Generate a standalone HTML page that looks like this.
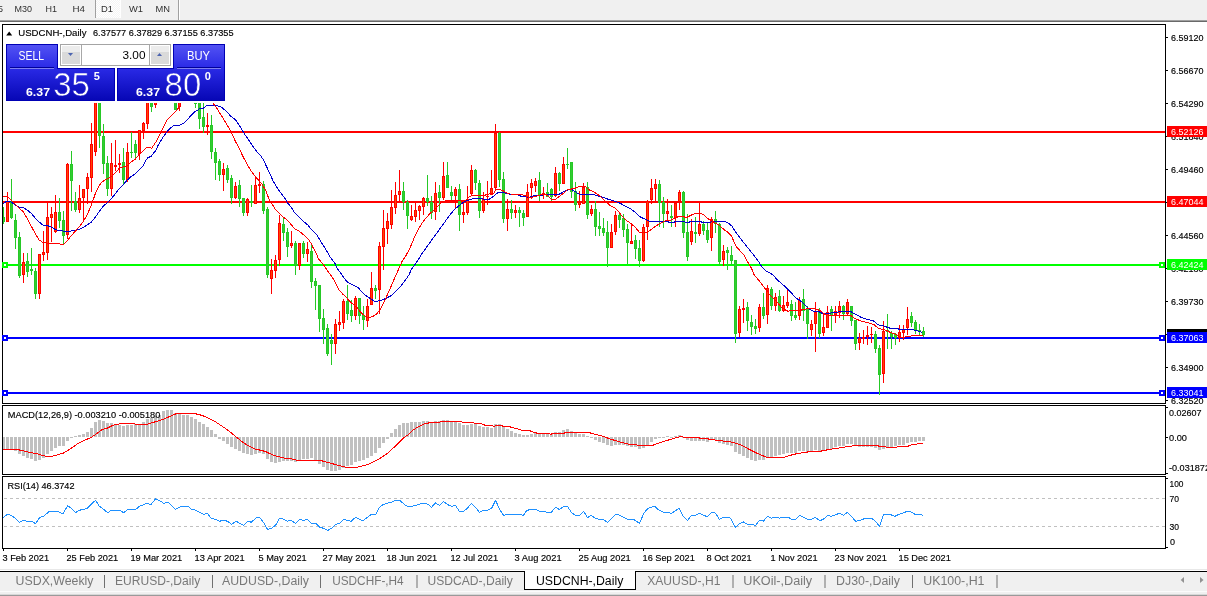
<!DOCTYPE html>
<html lang="en"><head><meta charset="utf-8"><title>USDCNH-,Daily</title>
<style>html,body{margin:0;padding:0;background:#fff;overflow:hidden}svg{display:block}text{font-family:'Liberation Sans', Arial, sans-serif;white-space:pre}</style>
</head><body>
<svg width="1207" height="596" viewBox="0 0 1207 596">
<defs>
<linearGradient id="gb" gradientUnits="userSpaceOnUse" x1="0" y1="44" x2="0" y2="101"><stop offset="0" stop-color="#5454f4"/><stop offset="0.42" stop-color="#2a2ae6"/><stop offset="1" stop-color="#0606b4"/></linearGradient>
<linearGradient id="gs" x1="0" y1="0" x2="0" y2="1"><stop offset="0" stop-color="#f2f2f2"/><stop offset="0.5" stop-color="#dcdcdc"/><stop offset="1" stop-color="#c8c8c8"/></linearGradient>
<clipPath id="cm"><rect x="3" y="103" width="1162" height="300"/></clipPath>
<pattern id="hatch" width="2" height="2" patternUnits="userSpaceOnUse"><rect width="2" height="2" fill="#f4f4f4"/><rect width="1" height="1" fill="#fff"/><rect x="1" y="1" width="1" height="1" fill="#fff"/></pattern>
</defs>
<rect x="0" y="0" width="1207" height="596" fill="#fff"/>
<g id="toolbar">
<rect x="0" y="0" width="1207" height="20" fill="#f0f0f0"/>
<rect x="0" y="20" width="1207" height="1" fill="#a0a0a0"/>
<rect x="0" y="21" width="1207" height="1" fill="#696969"/>
<rect x="96" y="0" width="24" height="18" fill="url(#hatch)"/>
<rect x="95" y="0" width="1" height="18" fill="#a0a0a0"/>
<rect x="120" y="0" width="1" height="18" fill="#fff"/>
<rect x="178" y="0" width="1" height="20" fill="#a0a0a0"/>
<rect x="179" y="0" width="1" height="20" fill="#fff"/>
<text x="-2" y="11.8" font-size="9.6" fill="#303030" textLength="5" lengthAdjust="spacingAndGlyphs">5</text>
<text x="14.5" y="11.8" font-size="9.6" fill="#303030" textLength="17.5" lengthAdjust="spacingAndGlyphs">M30</text>
<text x="45.5" y="11.8" font-size="9.6" fill="#303030" textLength="11.5" lengthAdjust="spacingAndGlyphs">H1</text>
<text x="72.5" y="11.8" font-size="9.6" fill="#303030" textLength="12.5" lengthAdjust="spacingAndGlyphs">H4</text>
<text x="101" y="11.8" font-size="9.6" fill="#303030" textLength="12" lengthAdjust="spacingAndGlyphs">D1</text>
<text x="129" y="11.8" font-size="9.6" fill="#303030" textLength="14" lengthAdjust="spacingAndGlyphs">W1</text>
<text x="155.5" y="11.8" font-size="9.6" fill="#303030" textLength="14.5" lengthAdjust="spacingAndGlyphs">MN</text>
</g>
<g id="frames" shape-rendering="crispEdges">
<rect x="2" y="24" width="1164" height="1" fill="#000"/>
<rect x="2" y="24" width="1" height="380" fill="#000"/>
<rect x="2" y="403" width="1164" height="1" fill="#000"/>
<rect x="1165" y="24" width="1" height="380" fill="#000"/>
<rect x="2" y="405" width="1164" height="1" fill="#000"/>
<rect x="2" y="405" width="1" height="70" fill="#000"/>
<rect x="2" y="474" width="1164" height="1" fill="#000"/>
<rect x="1165" y="405" width="1" height="70" fill="#000"/>
<rect x="2" y="476" width="1164" height="1" fill="#000"/>
<rect x="2" y="476" width="1" height="73" fill="#000"/>
<rect x="2" y="548" width="1164" height="1" fill="#000"/>
<rect x="1165" y="476" width="1" height="73" fill="#000"/>
</g>
<g id="paxis" shape-rendering="crispEdges">
<rect x="1166" y="37" width="2" height="1" fill="#000"/>
<rect x="1166" y="70" width="2" height="1" fill="#000"/>
<rect x="1166" y="103" width="2" height="1" fill="#000"/>
<rect x="1166" y="136" width="2" height="1" fill="#000"/>
<rect x="1166" y="169" width="2" height="1" fill="#000"/>
<rect x="1166" y="202" width="2" height="1" fill="#000"/>
<rect x="1166" y="235" width="2" height="1" fill="#000"/>
<rect x="1166" y="268" width="2" height="1" fill="#000"/>
<rect x="1166" y="301" width="2" height="1" fill="#000"/>
<rect x="1166" y="334" width="2" height="1" fill="#000"/>
<rect x="1166" y="367" width="2" height="1" fill="#000"/>
<rect x="1166" y="400" width="2" height="1" fill="#000"/>
<text x="1171" y="40.8" font-size="9.6" fill="#000" textLength="32.5" lengthAdjust="spacingAndGlyphs" stroke="#000" stroke-width="0.15">6.59120</text>
<text x="1171" y="73.8" font-size="9.6" fill="#000" textLength="32.5" lengthAdjust="spacingAndGlyphs" stroke="#000" stroke-width="0.15">6.56670</text>
<text x="1171" y="106.8" font-size="9.6" fill="#000" textLength="32.5" lengthAdjust="spacingAndGlyphs" stroke="#000" stroke-width="0.15">6.54290</text>
<text x="1171" y="139.8" font-size="9.6" fill="#000" textLength="32.5" lengthAdjust="spacingAndGlyphs" stroke="#000" stroke-width="0.15">6.51840</text>
<text x="1171" y="172.8" font-size="9.6" fill="#000" textLength="32.5" lengthAdjust="spacingAndGlyphs" stroke="#000" stroke-width="0.15">6.49460</text>
<text x="1171" y="238.8" font-size="9.6" fill="#000" textLength="32.5" lengthAdjust="spacingAndGlyphs" stroke="#000" stroke-width="0.15">6.44560</text>
<text x="1171" y="271.8" font-size="9.6" fill="#000" textLength="32.5" lengthAdjust="spacingAndGlyphs" stroke="#000" stroke-width="0.15">6.42180</text>
<text x="1171" y="304.8" font-size="9.6" fill="#000" textLength="32.5" lengthAdjust="spacingAndGlyphs" stroke="#000" stroke-width="0.15">6.39730</text>
<text x="1171" y="370.8" font-size="9.6" fill="#000" textLength="32.5" lengthAdjust="spacingAndGlyphs" stroke="#000" stroke-width="0.15">6.34900</text>
<text x="1171" y="403.8" font-size="9.6" fill="#000" textLength="32.5" lengthAdjust="spacingAndGlyphs" stroke="#000" stroke-width="0.15">6.32520</text>
</g>
<g id="hlines" shape-rendering="crispEdges">
<rect x="3" y="131" width="1162" height="2" fill="#ff0000"/>
<rect x="3" y="201" width="1162" height="2" fill="#ff0000"/>
<rect x="3" y="264" width="1162" height="2" fill="#00ff00"/>
<rect x="3" y="337" width="1162" height="2" fill="#0000ff"/>
<rect x="3" y="392" width="1162" height="2" fill="#0000ff"/>
</g>
<g id="candles" clip-path="url(#cm)" shape-rendering="crispEdges">
<rect x="3" y="207" width="1" height="17" fill="#26c826"/>
<rect x="2" y="217" width="3" height="5" fill="#26c826"/>
<rect x="3" y="218" width="1" height="3" fill="#32cd32"/>
<rect x="7" y="192" width="1" height="30" fill="#ff0000"/>
<rect x="6" y="201" width="3" height="21" fill="#ff0000"/>
<rect x="7" y="202" width="1" height="19" fill="#ff4500"/>
<rect x="11" y="179" width="1" height="40" fill="#26c826"/>
<rect x="10" y="201" width="3" height="17" fill="#26c826"/>
<rect x="11" y="202" width="1" height="15" fill="#32cd32"/>
<rect x="15" y="214" width="1" height="35" fill="#26c826"/>
<rect x="14" y="220" width="3" height="18" fill="#26c826"/>
<rect x="15" y="221" width="1" height="16" fill="#32cd32"/>
<rect x="19" y="232" width="1" height="46" fill="#26c826"/>
<rect x="18" y="237" width="3" height="39" fill="#26c826"/>
<rect x="19" y="238" width="1" height="37" fill="#32cd32"/>
<rect x="23" y="253" width="1" height="30" fill="#ff0000"/>
<rect x="22" y="262" width="3" height="13" fill="#ff0000"/>
<rect x="23" y="263" width="1" height="11" fill="#ff4500"/>
<rect x="27" y="253" width="1" height="24" fill="#26c826"/>
<rect x="26" y="261" width="3" height="11" fill="#26c826"/>
<rect x="27" y="262" width="1" height="9" fill="#32cd32"/>
<rect x="31" y="248" width="1" height="27" fill="#26c826"/>
<rect x="30" y="269" width="3" height="2" fill="#26c826"/>
<rect x="35" y="268" width="1" height="31" fill="#26c826"/>
<rect x="34" y="271" width="3" height="23" fill="#26c826"/>
<rect x="35" y="272" width="1" height="21" fill="#32cd32"/>
<rect x="39" y="254" width="1" height="45" fill="#ff0000"/>
<rect x="38" y="254" width="3" height="40" fill="#ff0000"/>
<rect x="39" y="255" width="1" height="38" fill="#ff4500"/>
<rect x="43" y="231" width="1" height="30" fill="#ff0000"/>
<rect x="42" y="252" width="3" height="3" fill="#ff0000"/>
<rect x="43" y="253" width="1" height="1" fill="#ff4500"/>
<rect x="47" y="202" width="1" height="58" fill="#ff0000"/>
<rect x="46" y="217" width="3" height="36" fill="#ff0000"/>
<rect x="47" y="218" width="1" height="34" fill="#ff4500"/>
<rect x="51" y="207" width="1" height="35" fill="#ff0000"/>
<rect x="50" y="214" width="3" height="4" fill="#ff0000"/>
<rect x="51" y="215" width="1" height="2" fill="#ff4500"/>
<rect x="55" y="195" width="1" height="38" fill="#ff0000"/>
<rect x="54" y="212" width="3" height="20" fill="#ff0000"/>
<rect x="55" y="213" width="1" height="18" fill="#ff4500"/>
<rect x="59" y="198" width="1" height="30" fill="#26c826"/>
<rect x="58" y="212" width="3" height="9" fill="#26c826"/>
<rect x="59" y="213" width="1" height="7" fill="#32cd32"/>
<rect x="63" y="211" width="1" height="33" fill="#26c826"/>
<rect x="62" y="220" width="3" height="16" fill="#26c826"/>
<rect x="63" y="221" width="1" height="14" fill="#32cd32"/>
<rect x="67" y="163" width="1" height="76" fill="#ff0000"/>
<rect x="66" y="164" width="3" height="71" fill="#ff0000"/>
<rect x="67" y="165" width="1" height="69" fill="#ff4500"/>
<rect x="71" y="151" width="1" height="60" fill="#26c826"/>
<rect x="70" y="164" width="3" height="17" fill="#26c826"/>
<rect x="71" y="165" width="1" height="15" fill="#32cd32"/>
<rect x="75" y="192" width="1" height="20" fill="#26c826"/>
<rect x="74" y="201" width="3" height="9" fill="#26c826"/>
<rect x="75" y="202" width="1" height="7" fill="#32cd32"/>
<rect x="79" y="185" width="1" height="28" fill="#ff0000"/>
<rect x="78" y="198" width="3" height="12" fill="#ff0000"/>
<rect x="79" y="199" width="1" height="10" fill="#ff4500"/>
<rect x="83" y="189" width="1" height="31" fill="#ff0000"/>
<rect x="82" y="189" width="3" height="9" fill="#ff0000"/>
<rect x="83" y="190" width="1" height="7" fill="#ff4500"/>
<rect x="87" y="173" width="1" height="31" fill="#ff0000"/>
<rect x="86" y="177" width="3" height="12" fill="#ff0000"/>
<rect x="87" y="178" width="1" height="10" fill="#ff4500"/>
<rect x="91" y="123" width="1" height="69" fill="#ff0000"/>
<rect x="90" y="144" width="3" height="34" fill="#ff0000"/>
<rect x="91" y="145" width="1" height="32" fill="#ff4500"/>
<rect x="95" y="90" width="1" height="66" fill="#ff0000"/>
<rect x="94" y="90" width="3" height="62" fill="#ff0000"/>
<rect x="95" y="91" width="1" height="60" fill="#ff4500"/>
<rect x="99" y="90" width="1" height="58" fill="#26c826"/>
<rect x="98" y="90" width="3" height="46" fill="#26c826"/>
<rect x="99" y="91" width="1" height="44" fill="#32cd32"/>
<rect x="103" y="124" width="1" height="50" fill="#26c826"/>
<rect x="102" y="136" width="3" height="28" fill="#26c826"/>
<rect x="103" y="137" width="1" height="26" fill="#32cd32"/>
<rect x="107" y="156" width="1" height="40" fill="#26c826"/>
<rect x="106" y="163" width="3" height="26" fill="#26c826"/>
<rect x="107" y="164" width="1" height="24" fill="#32cd32"/>
<rect x="111" y="143" width="1" height="53" fill="#ff0000"/>
<rect x="110" y="163" width="3" height="26" fill="#ff0000"/>
<rect x="111" y="164" width="1" height="24" fill="#ff4500"/>
<rect x="115" y="140" width="1" height="31" fill="#ff0000"/>
<rect x="114" y="165" width="3" height="2" fill="#ff0000"/>
<rect x="119" y="154" width="1" height="19" fill="#ff0000"/>
<rect x="118" y="163" width="3" height="2" fill="#ff0000"/>
<rect x="123" y="148" width="1" height="36" fill="#26c826"/>
<rect x="122" y="162" width="3" height="18" fill="#26c826"/>
<rect x="123" y="163" width="1" height="16" fill="#32cd32"/>
<rect x="127" y="143" width="1" height="39" fill="#ff0000"/>
<rect x="126" y="152" width="3" height="28" fill="#ff0000"/>
<rect x="127" y="153" width="1" height="26" fill="#ff4500"/>
<rect x="131" y="132" width="1" height="26" fill="#26c826"/>
<rect x="130" y="152" width="3" height="1" fill="#26c826"/>
<rect x="135" y="140" width="1" height="20" fill="#26c826"/>
<rect x="134" y="144" width="3" height="9" fill="#26c826"/>
<rect x="135" y="145" width="1" height="7" fill="#32cd32"/>
<rect x="139" y="130" width="1" height="30" fill="#ff0000"/>
<rect x="138" y="130" width="3" height="24" fill="#ff0000"/>
<rect x="139" y="131" width="1" height="22" fill="#ff4500"/>
<rect x="143" y="122" width="1" height="17" fill="#ff0000"/>
<rect x="142" y="123" width="3" height="8" fill="#ff0000"/>
<rect x="143" y="124" width="1" height="6" fill="#ff4500"/>
<rect x="147" y="90" width="1" height="39" fill="#ff0000"/>
<rect x="146" y="90" width="3" height="34" fill="#ff0000"/>
<rect x="147" y="91" width="1" height="32" fill="#ff4500"/>
<rect x="151" y="90" width="1" height="22" fill="#26c826"/>
<rect x="150" y="90" width="3" height="17" fill="#26c826"/>
<rect x="151" y="91" width="1" height="15" fill="#32cd32"/>
<rect x="155" y="90" width="1" height="18" fill="#ff0000"/>
<rect x="154" y="90" width="3" height="15" fill="#ff0000"/>
<rect x="155" y="91" width="1" height="13" fill="#ff4500"/>
<rect x="175" y="90" width="1" height="20" fill="#26c826"/>
<rect x="174" y="90" width="3" height="20" fill="#26c826"/>
<rect x="175" y="91" width="1" height="18" fill="#32cd32"/>
<rect x="179" y="90" width="1" height="21" fill="#ff0000"/>
<rect x="178" y="90" width="3" height="17" fill="#ff0000"/>
<rect x="179" y="91" width="1" height="15" fill="#ff4500"/>
<rect x="195" y="90" width="1" height="18" fill="#26c826"/>
<rect x="194" y="90" width="3" height="14" fill="#26c826"/>
<rect x="195" y="91" width="1" height="12" fill="#32cd32"/>
<rect x="199" y="90" width="1" height="39" fill="#26c826"/>
<rect x="198" y="90" width="3" height="29" fill="#26c826"/>
<rect x="199" y="91" width="1" height="27" fill="#32cd32"/>
<rect x="203" y="90" width="1" height="43" fill="#26c826"/>
<rect x="202" y="117" width="3" height="10" fill="#26c826"/>
<rect x="203" y="118" width="1" height="8" fill="#32cd32"/>
<rect x="207" y="113" width="1" height="22" fill="#ff0000"/>
<rect x="206" y="125" width="3" height="2" fill="#ff0000"/>
<rect x="211" y="115" width="1" height="44" fill="#26c826"/>
<rect x="210" y="125" width="3" height="27" fill="#26c826"/>
<rect x="211" y="126" width="1" height="25" fill="#32cd32"/>
<rect x="215" y="148" width="1" height="32" fill="#26c826"/>
<rect x="214" y="152" width="3" height="11" fill="#26c826"/>
<rect x="215" y="153" width="1" height="9" fill="#32cd32"/>
<rect x="219" y="159" width="1" height="22" fill="#26c826"/>
<rect x="218" y="161" width="3" height="14" fill="#26c826"/>
<rect x="219" y="162" width="1" height="12" fill="#32cd32"/>
<rect x="223" y="163" width="1" height="28" fill="#ff0000"/>
<rect x="222" y="169" width="3" height="6" fill="#ff0000"/>
<rect x="223" y="170" width="1" height="4" fill="#ff4500"/>
<rect x="227" y="165" width="1" height="18" fill="#26c826"/>
<rect x="226" y="168" width="3" height="12" fill="#26c826"/>
<rect x="227" y="169" width="1" height="10" fill="#32cd32"/>
<rect x="231" y="175" width="1" height="29" fill="#26c826"/>
<rect x="230" y="178" width="3" height="20" fill="#26c826"/>
<rect x="231" y="179" width="1" height="18" fill="#32cd32"/>
<rect x="235" y="182" width="1" height="17" fill="#ff0000"/>
<rect x="234" y="186" width="3" height="12" fill="#ff0000"/>
<rect x="235" y="187" width="1" height="10" fill="#ff4500"/>
<rect x="239" y="180" width="1" height="27" fill="#26c826"/>
<rect x="238" y="185" width="3" height="14" fill="#26c826"/>
<rect x="239" y="186" width="1" height="12" fill="#32cd32"/>
<rect x="243" y="198" width="1" height="18" fill="#26c826"/>
<rect x="242" y="198" width="3" height="15" fill="#26c826"/>
<rect x="243" y="199" width="1" height="13" fill="#32cd32"/>
<rect x="247" y="198" width="1" height="18" fill="#ff0000"/>
<rect x="246" y="199" width="3" height="14" fill="#ff0000"/>
<rect x="247" y="200" width="1" height="12" fill="#ff4500"/>
<rect x="251" y="185" width="1" height="22" fill="#26c826"/>
<rect x="250" y="201" width="3" height="2" fill="#26c826"/>
<rect x="255" y="176" width="1" height="28" fill="#ff0000"/>
<rect x="254" y="185" width="3" height="19" fill="#ff0000"/>
<rect x="255" y="186" width="1" height="17" fill="#ff4500"/>
<rect x="259" y="172" width="1" height="21" fill="#ff0000"/>
<rect x="258" y="184" width="3" height="2" fill="#ff0000"/>
<rect x="263" y="181" width="1" height="33" fill="#26c826"/>
<rect x="262" y="184" width="3" height="27" fill="#26c826"/>
<rect x="263" y="185" width="1" height="25" fill="#32cd32"/>
<rect x="267" y="207" width="1" height="71" fill="#26c826"/>
<rect x="266" y="209" width="3" height="66" fill="#26c826"/>
<rect x="267" y="210" width="1" height="64" fill="#32cd32"/>
<rect x="271" y="259" width="1" height="35" fill="#ff0000"/>
<rect x="270" y="270" width="3" height="9" fill="#ff0000"/>
<rect x="271" y="271" width="1" height="7" fill="#ff4500"/>
<rect x="275" y="255" width="1" height="23" fill="#ff0000"/>
<rect x="274" y="260" width="3" height="11" fill="#ff0000"/>
<rect x="275" y="261" width="1" height="9" fill="#ff4500"/>
<rect x="279" y="215" width="1" height="51" fill="#ff0000"/>
<rect x="278" y="223" width="3" height="37" fill="#ff0000"/>
<rect x="279" y="224" width="1" height="35" fill="#ff4500"/>
<rect x="283" y="218" width="1" height="23" fill="#26c826"/>
<rect x="282" y="224" width="3" height="9" fill="#26c826"/>
<rect x="283" y="225" width="1" height="7" fill="#32cd32"/>
<rect x="287" y="228" width="1" height="29" fill="#26c826"/>
<rect x="286" y="232" width="3" height="15" fill="#26c826"/>
<rect x="287" y="233" width="1" height="13" fill="#32cd32"/>
<rect x="291" y="231" width="1" height="17" fill="#ff0000"/>
<rect x="290" y="243" width="3" height="3" fill="#ff0000"/>
<rect x="291" y="244" width="1" height="1" fill="#ff4500"/>
<rect x="295" y="241" width="1" height="34" fill="#26c826"/>
<rect x="294" y="243" width="3" height="23" fill="#26c826"/>
<rect x="295" y="244" width="1" height="21" fill="#32cd32"/>
<rect x="299" y="243" width="1" height="27" fill="#ff0000"/>
<rect x="298" y="243" width="3" height="23" fill="#ff0000"/>
<rect x="299" y="244" width="1" height="21" fill="#ff4500"/>
<rect x="303" y="241" width="1" height="17" fill="#26c826"/>
<rect x="302" y="243" width="3" height="11" fill="#26c826"/>
<rect x="303" y="244" width="1" height="9" fill="#32cd32"/>
<rect x="307" y="242" width="1" height="20" fill="#ff0000"/>
<rect x="306" y="249" width="3" height="5" fill="#ff0000"/>
<rect x="307" y="250" width="1" height="3" fill="#ff4500"/>
<rect x="311" y="243" width="1" height="45" fill="#26c826"/>
<rect x="310" y="251" width="3" height="31" fill="#26c826"/>
<rect x="311" y="252" width="1" height="29" fill="#32cd32"/>
<rect x="315" y="278" width="1" height="32" fill="#26c826"/>
<rect x="314" y="281" width="3" height="5" fill="#26c826"/>
<rect x="315" y="282" width="1" height="3" fill="#32cd32"/>
<rect x="319" y="285" width="1" height="47" fill="#26c826"/>
<rect x="318" y="285" width="3" height="34" fill="#26c826"/>
<rect x="319" y="286" width="1" height="32" fill="#32cd32"/>
<rect x="323" y="309" width="1" height="35" fill="#26c826"/>
<rect x="322" y="318" width="3" height="12" fill="#26c826"/>
<rect x="323" y="319" width="1" height="10" fill="#32cd32"/>
<rect x="327" y="324" width="1" height="32" fill="#26c826"/>
<rect x="326" y="328" width="3" height="26" fill="#26c826"/>
<rect x="327" y="329" width="1" height="24" fill="#32cd32"/>
<rect x="331" y="334" width="1" height="31" fill="#26c826"/>
<rect x="330" y="340" width="3" height="4" fill="#26c826"/>
<rect x="331" y="341" width="1" height="2" fill="#32cd32"/>
<rect x="335" y="319" width="1" height="35" fill="#ff0000"/>
<rect x="334" y="324" width="3" height="20" fill="#ff0000"/>
<rect x="335" y="325" width="1" height="18" fill="#ff4500"/>
<rect x="339" y="311" width="1" height="20" fill="#ff0000"/>
<rect x="338" y="322" width="3" height="3" fill="#ff0000"/>
<rect x="339" y="323" width="1" height="1" fill="#ff4500"/>
<rect x="343" y="299" width="1" height="30" fill="#ff0000"/>
<rect x="342" y="301" width="3" height="22" fill="#ff0000"/>
<rect x="343" y="302" width="1" height="20" fill="#ff4500"/>
<rect x="347" y="285" width="1" height="35" fill="#26c826"/>
<rect x="346" y="301" width="3" height="13" fill="#26c826"/>
<rect x="347" y="302" width="1" height="11" fill="#32cd32"/>
<rect x="351" y="300" width="1" height="22" fill="#26c826"/>
<rect x="350" y="310" width="3" height="6" fill="#26c826"/>
<rect x="351" y="311" width="1" height="4" fill="#32cd32"/>
<rect x="355" y="296" width="1" height="24" fill="#ff0000"/>
<rect x="354" y="298" width="3" height="18" fill="#ff0000"/>
<rect x="355" y="299" width="1" height="16" fill="#ff4500"/>
<rect x="359" y="298" width="1" height="26" fill="#26c826"/>
<rect x="358" y="298" width="3" height="18" fill="#26c826"/>
<rect x="359" y="299" width="1" height="16" fill="#32cd32"/>
<rect x="363" y="306" width="1" height="24" fill="#26c826"/>
<rect x="362" y="315" width="3" height="5" fill="#26c826"/>
<rect x="363" y="316" width="1" height="3" fill="#32cd32"/>
<rect x="367" y="299" width="1" height="28" fill="#ff0000"/>
<rect x="366" y="306" width="3" height="15" fill="#ff0000"/>
<rect x="367" y="307" width="1" height="13" fill="#ff4500"/>
<rect x="371" y="272" width="1" height="33" fill="#ff0000"/>
<rect x="370" y="288" width="3" height="17" fill="#ff0000"/>
<rect x="371" y="289" width="1" height="15" fill="#ff4500"/>
<rect x="375" y="285" width="1" height="14" fill="#26c826"/>
<rect x="374" y="288" width="3" height="3" fill="#26c826"/>
<rect x="375" y="289" width="1" height="1" fill="#32cd32"/>
<rect x="379" y="242" width="1" height="72" fill="#ff0000"/>
<rect x="378" y="246" width="3" height="44" fill="#ff0000"/>
<rect x="379" y="247" width="1" height="42" fill="#ff4500"/>
<rect x="383" y="210" width="1" height="60" fill="#ff0000"/>
<rect x="382" y="228" width="3" height="19" fill="#ff0000"/>
<rect x="383" y="229" width="1" height="17" fill="#ff4500"/>
<rect x="387" y="213" width="1" height="31" fill="#ff0000"/>
<rect x="386" y="221" width="3" height="8" fill="#ff0000"/>
<rect x="387" y="222" width="1" height="6" fill="#ff4500"/>
<rect x="391" y="190" width="1" height="39" fill="#ff0000"/>
<rect x="390" y="207" width="3" height="18" fill="#ff0000"/>
<rect x="391" y="208" width="1" height="16" fill="#ff4500"/>
<rect x="395" y="182" width="1" height="32" fill="#ff0000"/>
<rect x="394" y="195" width="3" height="13" fill="#ff0000"/>
<rect x="395" y="196" width="1" height="11" fill="#ff4500"/>
<rect x="399" y="170" width="1" height="31" fill="#ff0000"/>
<rect x="398" y="191" width="3" height="4" fill="#ff0000"/>
<rect x="399" y="192" width="1" height="2" fill="#ff4500"/>
<rect x="403" y="182" width="1" height="28" fill="#26c826"/>
<rect x="402" y="191" width="3" height="11" fill="#26c826"/>
<rect x="403" y="192" width="1" height="9" fill="#32cd32"/>
<rect x="407" y="200" width="1" height="29" fill="#26c826"/>
<rect x="406" y="202" width="3" height="14" fill="#26c826"/>
<rect x="407" y="203" width="1" height="12" fill="#32cd32"/>
<rect x="411" y="205" width="1" height="16" fill="#ff0000"/>
<rect x="410" y="216" width="3" height="4" fill="#ff0000"/>
<rect x="411" y="217" width="1" height="2" fill="#ff4500"/>
<rect x="415" y="202" width="1" height="20" fill="#ff0000"/>
<rect x="414" y="210" width="3" height="7" fill="#ff0000"/>
<rect x="415" y="211" width="1" height="5" fill="#ff4500"/>
<rect x="419" y="205" width="1" height="15" fill="#ff0000"/>
<rect x="418" y="206" width="3" height="5" fill="#ff0000"/>
<rect x="419" y="207" width="1" height="3" fill="#ff4500"/>
<rect x="423" y="197" width="1" height="18" fill="#ff0000"/>
<rect x="422" y="198" width="3" height="9" fill="#ff0000"/>
<rect x="423" y="199" width="1" height="7" fill="#ff4500"/>
<rect x="427" y="175" width="1" height="31" fill="#26c826"/>
<rect x="426" y="198" width="3" height="4" fill="#26c826"/>
<rect x="427" y="199" width="1" height="2" fill="#32cd32"/>
<rect x="431" y="196" width="1" height="23" fill="#26c826"/>
<rect x="430" y="202" width="3" height="11" fill="#26c826"/>
<rect x="431" y="203" width="1" height="9" fill="#32cd32"/>
<rect x="435" y="182" width="1" height="38" fill="#ff0000"/>
<rect x="434" y="193" width="3" height="19" fill="#ff0000"/>
<rect x="435" y="194" width="1" height="17" fill="#ff4500"/>
<rect x="439" y="185" width="1" height="27" fill="#26c826"/>
<rect x="438" y="192" width="3" height="6" fill="#26c826"/>
<rect x="439" y="193" width="1" height="4" fill="#32cd32"/>
<rect x="443" y="162" width="1" height="38" fill="#ff0000"/>
<rect x="442" y="176" width="3" height="22" fill="#ff0000"/>
<rect x="443" y="177" width="1" height="20" fill="#ff4500"/>
<rect x="447" y="162" width="1" height="26" fill="#26c826"/>
<rect x="446" y="175" width="3" height="13" fill="#26c826"/>
<rect x="447" y="176" width="1" height="11" fill="#32cd32"/>
<rect x="451" y="186" width="1" height="14" fill="#26c826"/>
<rect x="450" y="192" width="3" height="4" fill="#26c826"/>
<rect x="451" y="193" width="1" height="2" fill="#32cd32"/>
<rect x="455" y="187" width="1" height="22" fill="#ff0000"/>
<rect x="454" y="189" width="3" height="7" fill="#ff0000"/>
<rect x="455" y="190" width="1" height="5" fill="#ff4500"/>
<rect x="459" y="184" width="1" height="47" fill="#26c826"/>
<rect x="458" y="189" width="3" height="26" fill="#26c826"/>
<rect x="459" y="190" width="1" height="24" fill="#32cd32"/>
<rect x="463" y="202" width="1" height="21" fill="#ff0000"/>
<rect x="462" y="212" width="3" height="3" fill="#ff0000"/>
<rect x="463" y="213" width="1" height="1" fill="#ff4500"/>
<rect x="467" y="186" width="1" height="29" fill="#ff0000"/>
<rect x="466" y="199" width="3" height="14" fill="#ff0000"/>
<rect x="467" y="200" width="1" height="12" fill="#ff4500"/>
<rect x="471" y="165" width="1" height="31" fill="#ff0000"/>
<rect x="470" y="170" width="3" height="24" fill="#ff0000"/>
<rect x="471" y="171" width="1" height="22" fill="#ff4500"/>
<rect x="475" y="169" width="1" height="21" fill="#26c826"/>
<rect x="474" y="170" width="3" height="13" fill="#26c826"/>
<rect x="475" y="171" width="1" height="11" fill="#32cd32"/>
<rect x="479" y="180" width="1" height="38" fill="#26c826"/>
<rect x="478" y="183" width="3" height="28" fill="#26c826"/>
<rect x="479" y="184" width="1" height="26" fill="#32cd32"/>
<rect x="483" y="192" width="1" height="21" fill="#ff0000"/>
<rect x="482" y="199" width="3" height="12" fill="#ff0000"/>
<rect x="483" y="200" width="1" height="10" fill="#ff4500"/>
<rect x="487" y="181" width="1" height="24" fill="#ff0000"/>
<rect x="486" y="196" width="3" height="1" fill="#ff0000"/>
<rect x="491" y="170" width="1" height="25" fill="#ff0000"/>
<rect x="490" y="188" width="3" height="7" fill="#ff0000"/>
<rect x="491" y="189" width="1" height="5" fill="#ff4500"/>
<rect x="495" y="124" width="1" height="66" fill="#ff0000"/>
<rect x="494" y="133" width="3" height="55" fill="#ff0000"/>
<rect x="495" y="134" width="1" height="53" fill="#ff4500"/>
<rect x="499" y="132" width="1" height="55" fill="#26c826"/>
<rect x="498" y="133" width="3" height="47" fill="#26c826"/>
<rect x="499" y="134" width="1" height="45" fill="#32cd32"/>
<rect x="503" y="172" width="1" height="51" fill="#26c826"/>
<rect x="502" y="179" width="3" height="40" fill="#26c826"/>
<rect x="503" y="180" width="1" height="38" fill="#32cd32"/>
<rect x="507" y="199" width="1" height="32" fill="#ff0000"/>
<rect x="506" y="209" width="3" height="10" fill="#ff0000"/>
<rect x="507" y="210" width="1" height="8" fill="#ff4500"/>
<rect x="511" y="200" width="1" height="19" fill="#26c826"/>
<rect x="510" y="209" width="3" height="4" fill="#26c826"/>
<rect x="511" y="210" width="1" height="2" fill="#32cd32"/>
<rect x="515" y="205" width="1" height="13" fill="#ff0000"/>
<rect x="514" y="210" width="3" height="3" fill="#ff0000"/>
<rect x="515" y="211" width="1" height="1" fill="#ff4500"/>
<rect x="519" y="207" width="1" height="20" fill="#26c826"/>
<rect x="518" y="210" width="3" height="3" fill="#26c826"/>
<rect x="519" y="211" width="1" height="1" fill="#32cd32"/>
<rect x="523" y="210" width="1" height="16" fill="#26c826"/>
<rect x="522" y="213" width="3" height="5" fill="#26c826"/>
<rect x="523" y="214" width="1" height="3" fill="#32cd32"/>
<rect x="527" y="184" width="1" height="33" fill="#ff0000"/>
<rect x="526" y="192" width="3" height="25" fill="#ff0000"/>
<rect x="527" y="193" width="1" height="23" fill="#ff4500"/>
<rect x="531" y="179" width="1" height="20" fill="#ff0000"/>
<rect x="530" y="183" width="3" height="5" fill="#ff0000"/>
<rect x="531" y="184" width="1" height="3" fill="#ff4500"/>
<rect x="535" y="178" width="1" height="14" fill="#ff0000"/>
<rect x="534" y="181" width="3" height="5" fill="#ff0000"/>
<rect x="535" y="182" width="1" height="3" fill="#ff4500"/>
<rect x="539" y="172" width="1" height="29" fill="#26c826"/>
<rect x="538" y="180" width="3" height="16" fill="#26c826"/>
<rect x="539" y="181" width="1" height="14" fill="#32cd32"/>
<rect x="543" y="187" width="1" height="12" fill="#ff0000"/>
<rect x="542" y="193" width="3" height="2" fill="#ff0000"/>
<rect x="547" y="183" width="1" height="14" fill="#26c826"/>
<rect x="546" y="192" width="3" height="5" fill="#26c826"/>
<rect x="547" y="193" width="1" height="3" fill="#32cd32"/>
<rect x="551" y="188" width="1" height="13" fill="#26c826"/>
<rect x="550" y="189" width="3" height="8" fill="#26c826"/>
<rect x="551" y="190" width="1" height="6" fill="#32cd32"/>
<rect x="555" y="167" width="1" height="30" fill="#ff0000"/>
<rect x="554" y="173" width="3" height="23" fill="#ff0000"/>
<rect x="555" y="174" width="1" height="21" fill="#ff4500"/>
<rect x="559" y="172" width="1" height="19" fill="#26c826"/>
<rect x="558" y="173" width="3" height="11" fill="#26c826"/>
<rect x="559" y="174" width="1" height="9" fill="#32cd32"/>
<rect x="563" y="157" width="1" height="27" fill="#ff0000"/>
<rect x="562" y="164" width="3" height="20" fill="#ff0000"/>
<rect x="563" y="165" width="1" height="18" fill="#ff4500"/>
<rect x="567" y="148" width="1" height="21" fill="#26c826"/>
<rect x="566" y="164" width="3" height="1" fill="#26c826"/>
<rect x="571" y="162" width="1" height="36" fill="#26c826"/>
<rect x="570" y="162" width="3" height="30" fill="#26c826"/>
<rect x="571" y="163" width="1" height="28" fill="#32cd32"/>
<rect x="575" y="182" width="1" height="29" fill="#26c826"/>
<rect x="574" y="191" width="3" height="14" fill="#26c826"/>
<rect x="575" y="192" width="1" height="12" fill="#32cd32"/>
<rect x="579" y="191" width="1" height="17" fill="#ff0000"/>
<rect x="578" y="202" width="3" height="3" fill="#ff0000"/>
<rect x="579" y="203" width="1" height="1" fill="#ff4500"/>
<rect x="583" y="183" width="1" height="21" fill="#ff0000"/>
<rect x="582" y="187" width="3" height="17" fill="#ff0000"/>
<rect x="583" y="188" width="1" height="15" fill="#ff4500"/>
<rect x="587" y="182" width="1" height="37" fill="#26c826"/>
<rect x="586" y="187" width="3" height="28" fill="#26c826"/>
<rect x="587" y="188" width="1" height="26" fill="#32cd32"/>
<rect x="591" y="205" width="1" height="11" fill="#ff0000"/>
<rect x="590" y="209" width="3" height="5" fill="#ff0000"/>
<rect x="591" y="210" width="1" height="3" fill="#ff4500"/>
<rect x="595" y="201" width="1" height="35" fill="#26c826"/>
<rect x="594" y="209" width="3" height="18" fill="#26c826"/>
<rect x="595" y="210" width="1" height="16" fill="#32cd32"/>
<rect x="599" y="212" width="1" height="24" fill="#26c826"/>
<rect x="598" y="226" width="3" height="3" fill="#26c826"/>
<rect x="599" y="227" width="1" height="1" fill="#32cd32"/>
<rect x="603" y="218" width="1" height="18" fill="#26c826"/>
<rect x="602" y="228" width="3" height="5" fill="#26c826"/>
<rect x="603" y="229" width="1" height="3" fill="#32cd32"/>
<rect x="607" y="221" width="1" height="46" fill="#26c826"/>
<rect x="606" y="232" width="3" height="16" fill="#26c826"/>
<rect x="607" y="233" width="1" height="14" fill="#32cd32"/>
<rect x="611" y="224" width="1" height="24" fill="#ff0000"/>
<rect x="610" y="232" width="3" height="16" fill="#ff0000"/>
<rect x="611" y="233" width="1" height="14" fill="#ff4500"/>
<rect x="615" y="211" width="1" height="24" fill="#ff0000"/>
<rect x="614" y="215" width="3" height="17" fill="#ff0000"/>
<rect x="615" y="216" width="1" height="15" fill="#ff4500"/>
<rect x="619" y="213" width="1" height="15" fill="#26c826"/>
<rect x="618" y="215" width="3" height="5" fill="#26c826"/>
<rect x="619" y="216" width="1" height="3" fill="#32cd32"/>
<rect x="623" y="214" width="1" height="23" fill="#26c826"/>
<rect x="622" y="218" width="3" height="12" fill="#26c826"/>
<rect x="623" y="219" width="1" height="10" fill="#32cd32"/>
<rect x="627" y="224" width="1" height="40" fill="#26c826"/>
<rect x="626" y="229" width="3" height="14" fill="#26c826"/>
<rect x="627" y="230" width="1" height="12" fill="#32cd32"/>
<rect x="631" y="225" width="1" height="19" fill="#ff0000"/>
<rect x="630" y="241" width="3" height="3" fill="#ff0000"/>
<rect x="631" y="242" width="1" height="1" fill="#ff4500"/>
<rect x="635" y="235" width="1" height="24" fill="#26c826"/>
<rect x="634" y="240" width="3" height="9" fill="#26c826"/>
<rect x="635" y="241" width="1" height="7" fill="#32cd32"/>
<rect x="639" y="240" width="1" height="27" fill="#26c826"/>
<rect x="638" y="248" width="3" height="13" fill="#26c826"/>
<rect x="639" y="249" width="1" height="11" fill="#32cd32"/>
<rect x="643" y="224" width="1" height="38" fill="#ff0000"/>
<rect x="642" y="227" width="3" height="34" fill="#ff0000"/>
<rect x="643" y="228" width="1" height="32" fill="#ff4500"/>
<rect x="647" y="200" width="1" height="40" fill="#ff0000"/>
<rect x="646" y="201" width="3" height="26" fill="#ff0000"/>
<rect x="647" y="202" width="1" height="24" fill="#ff4500"/>
<rect x="651" y="179" width="1" height="25" fill="#ff0000"/>
<rect x="650" y="188" width="3" height="12" fill="#ff0000"/>
<rect x="651" y="189" width="1" height="10" fill="#ff4500"/>
<rect x="655" y="179" width="1" height="23" fill="#ff0000"/>
<rect x="654" y="184" width="3" height="5" fill="#ff0000"/>
<rect x="655" y="185" width="1" height="3" fill="#ff4500"/>
<rect x="659" y="180" width="1" height="47" fill="#26c826"/>
<rect x="658" y="184" width="3" height="19" fill="#26c826"/>
<rect x="659" y="185" width="1" height="17" fill="#32cd32"/>
<rect x="663" y="197" width="1" height="31" fill="#26c826"/>
<rect x="662" y="202" width="3" height="12" fill="#26c826"/>
<rect x="663" y="203" width="1" height="10" fill="#32cd32"/>
<rect x="667" y="199" width="1" height="23" fill="#ff0000"/>
<rect x="666" y="211" width="3" height="3" fill="#ff0000"/>
<rect x="667" y="212" width="1" height="1" fill="#ff4500"/>
<rect x="671" y="205" width="1" height="22" fill="#26c826"/>
<rect x="670" y="216" width="3" height="2" fill="#26c826"/>
<rect x="675" y="202" width="1" height="25" fill="#ff0000"/>
<rect x="674" y="203" width="3" height="15" fill="#ff0000"/>
<rect x="675" y="204" width="1" height="13" fill="#ff4500"/>
<rect x="679" y="190" width="1" height="20" fill="#ff0000"/>
<rect x="678" y="192" width="3" height="10" fill="#ff0000"/>
<rect x="679" y="193" width="1" height="8" fill="#ff4500"/>
<rect x="683" y="191" width="1" height="47" fill="#26c826"/>
<rect x="682" y="192" width="3" height="41" fill="#26c826"/>
<rect x="683" y="193" width="1" height="39" fill="#32cd32"/>
<rect x="687" y="214" width="1" height="47" fill="#26c826"/>
<rect x="686" y="232" width="3" height="25" fill="#26c826"/>
<rect x="687" y="233" width="1" height="23" fill="#32cd32"/>
<rect x="691" y="219" width="1" height="26" fill="#ff0000"/>
<rect x="690" y="231" width="3" height="11" fill="#ff0000"/>
<rect x="691" y="232" width="1" height="9" fill="#ff4500"/>
<rect x="695" y="217" width="1" height="26" fill="#26c826"/>
<rect x="694" y="232" width="3" height="2" fill="#26c826"/>
<rect x="699" y="202" width="1" height="34" fill="#ff0000"/>
<rect x="698" y="224" width="3" height="10" fill="#ff0000"/>
<rect x="699" y="225" width="1" height="8" fill="#ff4500"/>
<rect x="703" y="221" width="1" height="14" fill="#26c826"/>
<rect x="702" y="224" width="3" height="7" fill="#26c826"/>
<rect x="703" y="225" width="1" height="5" fill="#32cd32"/>
<rect x="707" y="223" width="1" height="20" fill="#26c826"/>
<rect x="706" y="230" width="3" height="10" fill="#26c826"/>
<rect x="707" y="231" width="1" height="8" fill="#32cd32"/>
<rect x="711" y="217" width="1" height="34" fill="#ff0000"/>
<rect x="710" y="219" width="3" height="19" fill="#ff0000"/>
<rect x="711" y="220" width="1" height="17" fill="#ff4500"/>
<rect x="715" y="211" width="1" height="22" fill="#26c826"/>
<rect x="714" y="219" width="3" height="5" fill="#26c826"/>
<rect x="715" y="220" width="1" height="3" fill="#32cd32"/>
<rect x="719" y="223" width="1" height="42" fill="#26c826"/>
<rect x="718" y="224" width="3" height="38" fill="#26c826"/>
<rect x="719" y="225" width="1" height="36" fill="#32cd32"/>
<rect x="723" y="245" width="1" height="21" fill="#ff0000"/>
<rect x="722" y="251" width="3" height="9" fill="#ff0000"/>
<rect x="723" y="252" width="1" height="7" fill="#ff4500"/>
<rect x="727" y="247" width="1" height="23" fill="#26c826"/>
<rect x="726" y="250" width="3" height="3" fill="#26c826"/>
<rect x="727" y="251" width="1" height="1" fill="#32cd32"/>
<rect x="731" y="246" width="1" height="19" fill="#26c826"/>
<rect x="730" y="255" width="3" height="6" fill="#26c826"/>
<rect x="731" y="256" width="1" height="4" fill="#32cd32"/>
<rect x="735" y="260" width="1" height="83" fill="#26c826"/>
<rect x="734" y="260" width="3" height="74" fill="#26c826"/>
<rect x="735" y="261" width="1" height="72" fill="#32cd32"/>
<rect x="739" y="306" width="1" height="31" fill="#ff0000"/>
<rect x="738" y="309" width="3" height="24" fill="#ff0000"/>
<rect x="739" y="310" width="1" height="22" fill="#ff4500"/>
<rect x="743" y="299" width="1" height="24" fill="#ff0000"/>
<rect x="742" y="308" width="3" height="2" fill="#ff0000"/>
<rect x="747" y="302" width="1" height="29" fill="#26c826"/>
<rect x="746" y="307" width="3" height="14" fill="#26c826"/>
<rect x="747" y="308" width="1" height="12" fill="#32cd32"/>
<rect x="751" y="315" width="1" height="20" fill="#26c826"/>
<rect x="750" y="322" width="3" height="5" fill="#26c826"/>
<rect x="751" y="323" width="1" height="3" fill="#32cd32"/>
<rect x="755" y="319" width="1" height="15" fill="#26c826"/>
<rect x="754" y="326" width="3" height="3" fill="#26c826"/>
<rect x="755" y="327" width="1" height="1" fill="#32cd32"/>
<rect x="759" y="304" width="1" height="28" fill="#ff0000"/>
<rect x="758" y="307" width="3" height="21" fill="#ff0000"/>
<rect x="759" y="308" width="1" height="19" fill="#ff4500"/>
<rect x="763" y="293" width="1" height="26" fill="#26c826"/>
<rect x="762" y="307" width="3" height="9" fill="#26c826"/>
<rect x="763" y="308" width="1" height="7" fill="#32cd32"/>
<rect x="767" y="285" width="1" height="39" fill="#ff0000"/>
<rect x="766" y="288" width="3" height="27" fill="#ff0000"/>
<rect x="767" y="289" width="1" height="25" fill="#ff4500"/>
<rect x="771" y="287" width="1" height="23" fill="#26c826"/>
<rect x="770" y="289" width="3" height="17" fill="#26c826"/>
<rect x="771" y="290" width="1" height="15" fill="#32cd32"/>
<rect x="775" y="293" width="1" height="18" fill="#ff0000"/>
<rect x="774" y="297" width="3" height="9" fill="#ff0000"/>
<rect x="775" y="298" width="1" height="7" fill="#ff4500"/>
<rect x="779" y="290" width="1" height="22" fill="#26c826"/>
<rect x="778" y="296" width="3" height="15" fill="#26c826"/>
<rect x="779" y="297" width="1" height="13" fill="#32cd32"/>
<rect x="783" y="296" width="1" height="16" fill="#ff0000"/>
<rect x="782" y="305" width="3" height="6" fill="#ff0000"/>
<rect x="783" y="306" width="1" height="4" fill="#ff4500"/>
<rect x="787" y="288" width="1" height="20" fill="#ff0000"/>
<rect x="786" y="302" width="3" height="4" fill="#ff0000"/>
<rect x="787" y="303" width="1" height="2" fill="#ff4500"/>
<rect x="791" y="300" width="1" height="21" fill="#26c826"/>
<rect x="790" y="304" width="3" height="12" fill="#26c826"/>
<rect x="791" y="305" width="1" height="10" fill="#32cd32"/>
<rect x="795" y="302" width="1" height="18" fill="#26c826"/>
<rect x="794" y="315" width="3" height="3" fill="#26c826"/>
<rect x="795" y="316" width="1" height="1" fill="#32cd32"/>
<rect x="799" y="297" width="1" height="23" fill="#ff0000"/>
<rect x="798" y="300" width="3" height="16" fill="#ff0000"/>
<rect x="799" y="301" width="1" height="14" fill="#ff4500"/>
<rect x="803" y="289" width="1" height="32" fill="#26c826"/>
<rect x="802" y="299" width="3" height="12" fill="#26c826"/>
<rect x="803" y="300" width="1" height="10" fill="#32cd32"/>
<rect x="807" y="306" width="1" height="33" fill="#26c826"/>
<rect x="806" y="309" width="3" height="15" fill="#26c826"/>
<rect x="807" y="310" width="1" height="13" fill="#32cd32"/>
<rect x="811" y="320" width="1" height="16" fill="#ff0000"/>
<rect x="810" y="324" width="3" height="6" fill="#ff0000"/>
<rect x="811" y="325" width="1" height="4" fill="#ff4500"/>
<rect x="815" y="302" width="1" height="50" fill="#ff0000"/>
<rect x="814" y="312" width="3" height="12" fill="#ff0000"/>
<rect x="815" y="313" width="1" height="10" fill="#ff4500"/>
<rect x="819" y="308" width="1" height="30" fill="#26c826"/>
<rect x="818" y="311" width="3" height="23" fill="#26c826"/>
<rect x="819" y="312" width="1" height="21" fill="#32cd32"/>
<rect x="823" y="313" width="1" height="23" fill="#ff0000"/>
<rect x="822" y="327" width="3" height="6" fill="#ff0000"/>
<rect x="823" y="328" width="1" height="4" fill="#ff4500"/>
<rect x="827" y="306" width="1" height="22" fill="#ff0000"/>
<rect x="826" y="312" width="3" height="16" fill="#ff0000"/>
<rect x="827" y="313" width="1" height="14" fill="#ff4500"/>
<rect x="831" y="306" width="1" height="25" fill="#26c826"/>
<rect x="830" y="309" width="3" height="7" fill="#26c826"/>
<rect x="831" y="310" width="1" height="5" fill="#32cd32"/>
<rect x="835" y="306" width="1" height="17" fill="#ff0000"/>
<rect x="834" y="311" width="3" height="4" fill="#ff0000"/>
<rect x="835" y="312" width="1" height="2" fill="#ff4500"/>
<rect x="839" y="301" width="1" height="17" fill="#ff0000"/>
<rect x="838" y="306" width="3" height="7" fill="#ff0000"/>
<rect x="839" y="307" width="1" height="5" fill="#ff4500"/>
<rect x="843" y="305" width="1" height="15" fill="#26c826"/>
<rect x="842" y="306" width="3" height="8" fill="#26c826"/>
<rect x="843" y="307" width="1" height="6" fill="#32cd32"/>
<rect x="847" y="299" width="1" height="17" fill="#ff0000"/>
<rect x="846" y="302" width="3" height="12" fill="#ff0000"/>
<rect x="847" y="303" width="1" height="10" fill="#ff4500"/>
<rect x="851" y="306" width="1" height="20" fill="#26c826"/>
<rect x="850" y="306" width="3" height="15" fill="#26c826"/>
<rect x="851" y="307" width="1" height="13" fill="#32cd32"/>
<rect x="855" y="320" width="1" height="30" fill="#26c826"/>
<rect x="854" y="320" width="3" height="24" fill="#26c826"/>
<rect x="855" y="321" width="1" height="22" fill="#32cd32"/>
<rect x="859" y="333" width="1" height="17" fill="#ff0000"/>
<rect x="858" y="338" width="3" height="5" fill="#ff0000"/>
<rect x="859" y="339" width="1" height="3" fill="#ff4500"/>
<rect x="863" y="330" width="1" height="14" fill="#ff0000"/>
<rect x="862" y="337" width="3" height="2" fill="#ff0000"/>
<rect x="867" y="326" width="1" height="19" fill="#ff0000"/>
<rect x="866" y="335" width="3" height="2" fill="#ff0000"/>
<rect x="871" y="327" width="1" height="16" fill="#ff0000"/>
<rect x="870" y="334" width="3" height="1" fill="#ff0000"/>
<rect x="875" y="331" width="1" height="22" fill="#26c826"/>
<rect x="874" y="334" width="3" height="15" fill="#26c826"/>
<rect x="875" y="335" width="1" height="13" fill="#32cd32"/>
<rect x="879" y="345" width="1" height="50" fill="#26c826"/>
<rect x="878" y="348" width="3" height="27" fill="#26c826"/>
<rect x="879" y="349" width="1" height="25" fill="#32cd32"/>
<rect x="883" y="321" width="1" height="62" fill="#ff0000"/>
<rect x="882" y="331" width="3" height="43" fill="#ff0000"/>
<rect x="883" y="332" width="1" height="41" fill="#ff4500"/>
<rect x="887" y="314" width="1" height="35" fill="#26c826"/>
<rect x="886" y="330" width="3" height="2" fill="#26c826"/>
<rect x="891" y="331" width="1" height="18" fill="#26c826"/>
<rect x="890" y="333" width="3" height="4" fill="#26c826"/>
<rect x="891" y="334" width="1" height="2" fill="#32cd32"/>
<rect x="895" y="333" width="1" height="12" fill="#26c826"/>
<rect x="894" y="334" width="3" height="4" fill="#26c826"/>
<rect x="895" y="335" width="1" height="2" fill="#32cd32"/>
<rect x="899" y="325" width="1" height="17" fill="#ff0000"/>
<rect x="898" y="332" width="3" height="6" fill="#ff0000"/>
<rect x="899" y="333" width="1" height="4" fill="#ff4500"/>
<rect x="903" y="325" width="1" height="15" fill="#ff0000"/>
<rect x="902" y="329" width="3" height="4" fill="#ff0000"/>
<rect x="903" y="330" width="1" height="2" fill="#ff4500"/>
<rect x="907" y="307" width="1" height="28" fill="#ff0000"/>
<rect x="906" y="319" width="3" height="9" fill="#ff0000"/>
<rect x="907" y="320" width="1" height="7" fill="#ff4500"/>
<rect x="911" y="312" width="1" height="15" fill="#26c826"/>
<rect x="910" y="316" width="3" height="7" fill="#26c826"/>
<rect x="911" y="317" width="1" height="5" fill="#32cd32"/>
<rect x="915" y="320" width="1" height="14" fill="#26c826"/>
<rect x="914" y="322" width="3" height="9" fill="#26c826"/>
<rect x="915" y="323" width="1" height="7" fill="#32cd32"/>
<rect x="919" y="324" width="1" height="11" fill="#26c826"/>
<rect x="918" y="330" width="3" height="2" fill="#26c826"/>
<rect x="923" y="327" width="1" height="10" fill="#26c826"/>
<rect x="922" y="331" width="3" height="4" fill="#26c826"/>
<rect x="923" y="332" width="1" height="2" fill="#32cd32"/>
</g>
<g id="mas" clip-path="url(#cm)">
<polyline points="3.0,203.5 7.0,201.0 11.0,202.0 15.0,204.6 19.0,207.3 23.0,207.3 27.0,210.0 31.0,213.0 35.0,217.7 39.0,222.0 43.0,225.0 47.0,225.5 51.0,226.8 55.0,229.3 59.0,230.5 63.0,231.0 67.0,231.3 71.0,231.0 75.0,230.5 79.0,229.5 83.0,227.5 87.0,225.0 91.0,222.5 95.0,217.5 99.0,212.0 103.0,206.5 107.0,203.0 111.0,199.0 115.0,194.3 119.0,189.0 123.0,185.0 127.0,180.3 131.0,176.7 135.0,174.0 139.0,170.0 143.0,166.0 145.5,161.0 147.5,158.0 151.5,156.0 155.5,150.7 158.5,144.6 162.6,137.8 166.6,132.3 170.6,127.7 174.0,125.5 179.7,125.0 183.7,123.2 187.8,119.2 191.3,115.0 195.0,111.6 197.8,110.0 200.0,108.6 203.7,108.0 206.0,106.0 209.0,105.0 213.0,105.0 217.0,105.5 221.0,107.0 225.0,110.0 228.0,113.0 231.0,116.5 234.0,118.7 236.5,121.0 239.0,125.0 241.5,129.0 244.0,133.3 248.0,139.0 252.0,145.0 256.0,150.5 258.0,153.0 261.0,156.0 264.0,161.0 267.0,167.6 270.0,174.0 273.0,180.7 276.0,186.0 280.0,191.8 284.0,197.0 288.0,203.4 292.5,209.0 294.5,212.6 298.5,216.6 302.5,220.7 305.0,222.7 308.0,225.2 311.0,229.2 316.5,234.3 320.6,241.3 324.6,247.4 328.0,253.0 330.5,257.6 335.0,263.6 337.5,269.0 341.5,274.2 345.0,279.2 347.5,282.2 353.0,285.2 358.5,287.8 360.0,289.7 363.0,293.3 367.0,296.5 371.0,299.0 375.0,301.5 379.0,300.8 384.0,299.3 388.0,297.3 392.0,295.3 396.0,291.3 400.5,286.7 404.5,281.2 409.0,275.0 411.0,270.0 415.0,264.6 419.0,258.5 421.0,255.0 425.0,249.4 429.0,243.8 433.0,238.3 437.0,232.8 441.0,227.2 445.0,221.7 447.0,218.7 451.0,213.6 455.0,209.0 459.0,205.6 463.0,202.5 467.0,200.5 469.6,199.9 473.7,198.4 480.0,198.4 484.7,199.4 488.8,199.4 491.8,197.4 493.0,196.7 497.0,193.2 500.0,192.2 504.0,192.7 508.0,193.7 512.0,194.7 517.0,194.7 521.0,196.2 525.0,196.7 529.0,197.2 532.0,196.7 535.0,195.2 541.0,195.2 545.0,194.7 551.0,194.2 555.0,194.7 559.0,194.2 562.0,192.7 565.5,190.7 568.5,189.7 572.0,189.7 575.5,191.7 579.0,194.2 593.0,194.2 595.5,195.2 600.0,196.5 604.0,197.7 608.0,199.2 613.0,200.7 620.0,203.2 625.0,206.0 630.0,208.3 634.0,211.3 639.0,216.3 643.0,218.3 646.5,219.8 650.0,221.4 667.0,221.4 669.0,222.2 671.5,223.0 673.5,222.2 677.5,221.4 684.0,221.4 687.5,222.9 691.0,221.4 697.0,221.4 701.0,221.9 705.7,222.9 709.0,222.4 715.0,221.4 725.5,221.5 729.0,223.6 732.0,226.1 735.0,231.1 739.0,236.6 743.0,241.7 747.0,246.7 751.0,251.8 755.0,256.8 759.0,262.3 762.0,266.9 764.5,269.9 768.0,272.0 771.0,273.5 774.0,276.0 777.0,279.6 781.0,283.1 785.0,286.6 789.0,290.6 793.0,294.7 796.0,298.2 799.0,299.7 802.0,302.2 805.0,305.2 809.0,308.8 812.0,310.8 815.0,311.8 819.0,311.8 822.0,313.3 825.0,313.8 829.0,313.3 833.0,312.8 837.0,312.3 841.0,311.3 847.0,311.1 851.0,311.6 853.0,313.1 857.0,315.1 861.0,317.2 865.0,318.7 869.0,319.7 873.0,320.7 875.0,322.2 877.5,324.2 879.5,325.2 883.0,325.7 887.0,327.2 890.0,328.2 897.0,328.2 899.0,329.2 903.0,329.7 912.0,329.7 915.0,330.2 919.0,331.3 922.0,332.3" fill="none" stroke="#0000cd" stroke-width="1" stroke-linejoin="round" shape-rendering="crispEdges"/>
<polyline points="3.0,196.5 7.0,196.5 11.0,200.0 15.0,204.0 19.0,208.0 23.0,211.6 27.0,218.0 31.0,225.7 35.0,233.0 39.0,240.0 43.0,242.4 47.0,243.0 51.0,243.5 55.0,243.5 59.0,243.5 63.0,245.0 67.0,241.0 71.0,236.0 75.0,231.5 79.0,227.0 83.0,222.0 87.0,215.0 91.0,206.0 93.7,198.4 95.7,192.4 98.7,186.3 101.7,182.3 104.7,180.3 109.8,177.8 113.8,174.2 117.8,170.2 119.0,168.0 123.0,167.0 127.0,166.0 131.0,162.0 135.0,159.6 139.0,154.6 143.5,150.5 146.5,147.8 149.0,147.3 151.5,148.4 154.0,145.0 157.5,139.3 161.5,131.3 166.6,120.7 170.0,117.0 175.6,111.6 179.7,106.6 183.0,98.0 198.0,70.0 213.0,103.0 217.0,108.6 221.0,115.0 225.0,121.5 229.0,128.0 232.0,134.0 235.0,140.5 239.0,148.0 243.0,156.5 247.0,164.0 251.0,171.0 255.0,176.0 259.0,180.7 262.0,184.0 265.5,190.0 269.0,199.0 272.0,204.0 275.5,209.5 279.0,213.0 283.0,217.0 285.5,218.6 289.0,222.0 293.0,226.7 295.0,229.2 299.0,231.0 303.0,234.3 305.5,236.3 308.5,239.3 311.0,243.3 313.5,248.4 316.5,254.0 318.5,259.0 323.0,264.0 327.0,270.0 332.0,276.7 335.6,283.2 338.6,289.3 343.0,294.3 347.7,299.0 352.0,303.4 357.0,307.4 360.4,312.0 364.5,315.6 368.5,317.9 372.5,316.6 376.5,314.0 380.0,310.0 384.0,302.3 388.0,293.3 392.0,284.2 396.0,275.0 400.0,266.0 402.0,261.5 406.0,255.5 410.0,248.0 414.0,238.3 418.0,230.0 422.0,223.2 426.0,218.0 430.0,213.6 434.0,210.0 438.0,206.0 441.0,203.0 445.0,201.0 449.0,200.7 455.0,200.7 463.0,200.7 465.6,200.2 468.6,197.4 471.6,195.4 484.7,195.4 487.0,194.3 493.8,193.3 495.8,189.3 500.0,189.7 503.0,190.7 505.0,192.2 510.0,194.0 519.0,194.2 522.0,194.7 525.0,195.7 529.0,197.2 532.0,197.2 537.0,196.0 542.0,194.2 545.0,194.2 548.0,195.7 551.4,199.2 555.5,199.2 559.5,196.2 563.5,193.2 567.5,189.7 570.5,189.2 574.6,188.4 577.6,187.2 581.6,186.1 585.7,187.0 588.7,189.7 592.7,191.4 596.7,193.7 600.8,196.7 604.0,200.2 608.0,203.7 612.0,206.8 615.0,207.8 619.0,212.3 623.0,217.3 627.0,220.9 629.0,222.0 632.0,224.5 636.0,228.0 639.5,232.6 647.0,232.6 651.0,229.6 655.0,226.5 659.0,224.0 663.0,221.9 667.0,220.0 671.0,220.0 675.0,218.3 679.0,216.3 683.0,216.3 686.0,217.8 689.0,216.3 693.0,214.3 697.0,213.3 699.5,213.0 703.0,214.3 707.0,218.3 710.0,219.8 715.0,222.9 719.0,225.0 724.0,229.6 727.0,231.6 731.5,236.1 734.0,241.7 736.0,246.2 740.0,250.8 744.0,255.3 746.5,260.3 749.0,263.8 752.0,269.4 754.0,274.5 757.0,278.1 761.0,283.1 765.0,288.6 767.0,290.6 769.5,294.7 773.5,298.2 777.5,302.7 781.0,306.8 785.0,309.8 788.0,311.3 791.0,310.3 800.0,310.3 805.0,309.3 809.0,308.3 813.0,308.3 817.0,309.3 821.0,311.3 825.0,314.3 829.0,315.3 833.0,315.8 851.0,315.6 853.0,317.2 855.0,318.7 859.0,320.2 863.0,321.7 867.0,322.2 871.0,323.7 874.0,324.7 877.0,327.2 879.5,328.7 883.0,329.7 886.0,330.2 889.0,331.8 893.0,333.3 897.0,334.8 900.0,337.0 905.0,337.0 910.0,336.3 913.0,335.3 923.0,335.3" fill="none" stroke="#ff0000" stroke-width="1" stroke-linejoin="round" shape-rendering="crispEdges"/>
</g>
<g id="labels" shape-rendering="crispEdges">
<rect x="2" y="262" width="6" height="6" fill="#00ff00"/>
<rect x="4" y="264" width="2" height="2" fill="#fff"/>
<rect x="1159" y="262" width="6" height="6" fill="#00ff00"/>
<rect x="1161" y="264" width="2" height="2" fill="#fff"/>
<rect x="2" y="335" width="6" height="6" fill="#0000ff"/>
<rect x="4" y="337" width="2" height="2" fill="#fff"/>
<rect x="1159" y="335" width="6" height="6" fill="#0000ff"/>
<rect x="1161" y="337" width="2" height="2" fill="#fff"/>
<rect x="2" y="390" width="6" height="6" fill="#0000ff"/>
<rect x="4" y="392" width="2" height="2" fill="#fff"/>
<rect x="1159" y="390" width="6" height="6" fill="#0000ff"/>
<rect x="1161" y="392" width="2" height="2" fill="#fff"/>
<rect x="1167" y="126" width="40" height="11" fill="#ff0000"/>
<text x="1171" y="135" font-size="9.6" fill="#fff" textLength="32.5" lengthAdjust="spacingAndGlyphs">6.52126</text>
<rect x="1167" y="196" width="40" height="11" fill="#ff0000"/>
<text x="1171" y="205" font-size="9.6" fill="#fff" textLength="32.5" lengthAdjust="spacingAndGlyphs">6.47044</text>
<rect x="1167" y="259" width="40" height="11" fill="#00ff00"/>
<text x="1171" y="268" font-size="9.6" fill="#fff" textLength="32.5" lengthAdjust="spacingAndGlyphs">6.42424</text>
<rect x="1167" y="329" width="40" height="11" fill="#000000"/>
<text x="1171" y="338" font-size="9.6" fill="#fff" textLength="32.5" lengthAdjust="spacingAndGlyphs">6.37355</text>
<rect x="1167" y="332" width="40" height="11" fill="#0000ff"/>
<text x="1171" y="341" font-size="9.6" fill="#fff" textLength="32.5" lengthAdjust="spacingAndGlyphs">6.37063</text>
<rect x="1167" y="387" width="40" height="11" fill="#0000ff"/>
<text x="1171" y="396" font-size="9.6" fill="#fff" textLength="32.5" lengthAdjust="spacingAndGlyphs">6.33041</text>
</g>
<path d="M6.2,35.4 L12.2,35.4 L9.2,31.6 Z" fill="#000"/>
<text x="18.3" y="36" font-size="9.6" fill="#000" textLength="68.2" lengthAdjust="spacingAndGlyphs" stroke="#000" stroke-width="0.15">USDCNH-,Daily</text>
<text x="93" y="36" font-size="9.6" fill="#000" textLength="140.6" lengthAdjust="spacingAndGlyphs" stroke="#000" stroke-width="0.15">6.37577 6.37829 6.37155 6.37355</text>
<g id="panel">
<rect x="6" y="44" width="219" height="57" fill="url(#gb)"/>
<rect x="58" y="44" width="115" height="24" fill="#fff"/>
<rect x="115" y="68" width="2" height="33" fill="#fff"/>
<g shape-rendering="crispEdges" fill="none" stroke="#0000b4" stroke-width="1">
<path d="M6.5,44.5 H57.5 V68.5 H114.5 V100.5 H6.5 Z"/>
<path d="M173.5,44.5 H224.5 V100.5 H117.5 V68.5 H173.5 Z"/>
</g>
<rect x="10" y="67" width="44" height="1" fill="#000098"/>
<rect x="10" y="68" width="44" height="1" fill="#8080f0"/>
<rect x="177" y="67" width="44" height="1" fill="#000098"/>
<rect x="177" y="68" width="44" height="1" fill="#8080f0"/>
<rect x="60.5" y="44.5" width="110" height="21" fill="#fff" stroke="#a4a4a4" stroke-width="1" shape-rendering="crispEdges"/>
<g shape-rendering="crispEdges">
<rect x="62" y="46" width="18" height="6" fill="#ececec"/>
<rect x="62" y="52" width="18" height="12" fill="#dadada"/>
<rect x="81" y="45" width="1" height="20" fill="#a8a8a8"/>
<rect x="151" y="46" width="18" height="6" fill="#ececec"/>
<rect x="151" y="52" width="18" height="12" fill="#dadada"/>
<rect x="149" y="45" width="1" height="20" fill="#a8a8a8"/>
</g>
<path d="M68,53 L73,53 L70.5,56 Z" fill="#4c64b0"/>
<path d="M157,56 L162,56 L159.5,53 Z" fill="#4c64b0"/>
<text x="145.5" y="58.5" font-size="11" fill="#000" text-anchor="end" textLength="23" lengthAdjust="spacingAndGlyphs">3.00</text>
<text x="18.5" y="60" font-size="12" fill="#fff" textLength="25.5" lengthAdjust="spacingAndGlyphs">SELL</text>
<text x="187" y="60" font-size="12" fill="#fff" textLength="23" lengthAdjust="spacingAndGlyphs">BUY</text>
<text x="26" y="95.6" font-size="11.5" fill="#fff" font-weight="bold" textLength="24" lengthAdjust="spacingAndGlyphs">6.37</text>
<text x="136" y="95.6" font-size="11.5" fill="#fff" font-weight="bold" textLength="24" lengthAdjust="spacingAndGlyphs">6.37</text>
<text x="53.2" y="96.4" font-size="33.5" fill="#fff" textLength="36.6" lengthAdjust="spacingAndGlyphs" stroke="url(#gb)" stroke-width="0.55">35</text>
<text x="164.6" y="96.4" font-size="33.5" fill="#fff" textLength="36.6" lengthAdjust="spacingAndGlyphs" stroke="url(#gb)" stroke-width="0.55">80</text>
<text x="93.8" y="79.8" font-size="11" fill="#fff" font-weight="bold">5</text>
<text x="204.7" y="79.8" font-size="11" fill="#fff" font-weight="bold">0</text>
</g>
<g id="macd">
<g shape-rendering="crispEdges">
<rect x="3" y="437" width="2" height="13" fill="#c0c0c0"/>
<rect x="6" y="437" width="3" height="13" fill="#c0c0c0"/>
<rect x="10" y="437" width="3" height="13" fill="#c0c0c0"/>
<rect x="14" y="437" width="3" height="14" fill="#c0c0c0"/>
<rect x="18" y="437" width="3" height="17" fill="#c0c0c0"/>
<rect x="22" y="437" width="3" height="19" fill="#c0c0c0"/>
<rect x="26" y="437" width="3" height="21" fill="#c0c0c0"/>
<rect x="30" y="437" width="3" height="22" fill="#c0c0c0"/>
<rect x="34" y="437" width="3" height="24" fill="#c0c0c0"/>
<rect x="38" y="437" width="3" height="23" fill="#c0c0c0"/>
<rect x="42" y="437" width="3" height="21" fill="#c0c0c0"/>
<rect x="46" y="437" width="3" height="17" fill="#c0c0c0"/>
<rect x="50" y="437" width="3" height="14" fill="#c0c0c0"/>
<rect x="54" y="437" width="3" height="11" fill="#c0c0c0"/>
<rect x="58" y="437" width="3" height="9" fill="#c0c0c0"/>
<rect x="62" y="437" width="3" height="9" fill="#c0c0c0"/>
<rect x="66" y="437" width="3" height="4" fill="#c0c0c0"/>
<rect x="70" y="437" width="3" height="1" fill="#c0c0c0"/>
<rect x="74" y="436" width="3" height="1" fill="#c0c0c0"/>
<rect x="78" y="435" width="3" height="2" fill="#c0c0c0"/>
<rect x="82" y="434" width="3" height="3" fill="#c0c0c0"/>
<rect x="86" y="432" width="3" height="5" fill="#c0c0c0"/>
<rect x="90" y="428" width="3" height="9" fill="#c0c0c0"/>
<rect x="94" y="422" width="3" height="15" fill="#c0c0c0"/>
<rect x="98" y="420" width="3" height="17" fill="#c0c0c0"/>
<rect x="102" y="421" width="3" height="16" fill="#c0c0c0"/>
<rect x="106" y="423" width="3" height="14" fill="#c0c0c0"/>
<rect x="110" y="423" width="3" height="14" fill="#c0c0c0"/>
<rect x="114" y="424" width="3" height="13" fill="#c0c0c0"/>
<rect x="118" y="425" width="3" height="12" fill="#c0c0c0"/>
<rect x="122" y="426" width="3" height="11" fill="#c0c0c0"/>
<rect x="126" y="425" width="3" height="12" fill="#c0c0c0"/>
<rect x="130" y="425" width="3" height="12" fill="#c0c0c0"/>
<rect x="134" y="424" width="3" height="13" fill="#c0c0c0"/>
<rect x="138" y="424" width="3" height="13" fill="#c0c0c0"/>
<rect x="142" y="422" width="3" height="15" fill="#c0c0c0"/>
<rect x="146" y="419" width="3" height="18" fill="#c0c0c0"/>
<rect x="150" y="418" width="3" height="19" fill="#c0c0c0"/>
<rect x="154" y="416" width="3" height="21" fill="#c0c0c0"/>
<rect x="158" y="415" width="3" height="22" fill="#c0c0c0"/>
<rect x="162" y="411" width="3" height="26" fill="#c0c0c0"/>
<rect x="166" y="410" width="3" height="27" fill="#c0c0c0"/>
<rect x="170" y="410" width="3" height="27" fill="#c0c0c0"/>
<rect x="174" y="413" width="3" height="24" fill="#c0c0c0"/>
<rect x="178" y="413" width="3" height="24" fill="#c0c0c0"/>
<rect x="182" y="415" width="3" height="22" fill="#c0c0c0"/>
<rect x="186" y="415" width="3" height="22" fill="#c0c0c0"/>
<rect x="190" y="417" width="3" height="20" fill="#c0c0c0"/>
<rect x="194" y="419" width="3" height="18" fill="#c0c0c0"/>
<rect x="198" y="422" width="3" height="15" fill="#c0c0c0"/>
<rect x="202" y="424" width="3" height="13" fill="#c0c0c0"/>
<rect x="206" y="427" width="3" height="10" fill="#c0c0c0"/>
<rect x="210" y="430" width="3" height="7" fill="#c0c0c0"/>
<rect x="214" y="434" width="3" height="3" fill="#c0c0c0"/>
<rect x="218" y="437" width="3" height="2" fill="#c0c0c0"/>
<rect x="222" y="437" width="3" height="4" fill="#c0c0c0"/>
<rect x="226" y="437" width="3" height="7" fill="#c0c0c0"/>
<rect x="230" y="437" width="3" height="10" fill="#c0c0c0"/>
<rect x="234" y="437" width="3" height="12" fill="#c0c0c0"/>
<rect x="238" y="437" width="3" height="14" fill="#c0c0c0"/>
<rect x="242" y="437" width="3" height="16" fill="#c0c0c0"/>
<rect x="246" y="437" width="3" height="17" fill="#c0c0c0"/>
<rect x="250" y="437" width="3" height="18" fill="#c0c0c0"/>
<rect x="254" y="437" width="3" height="17" fill="#c0c0c0"/>
<rect x="258" y="437" width="3" height="16" fill="#c0c0c0"/>
<rect x="262" y="437" width="3" height="17" fill="#c0c0c0"/>
<rect x="266" y="437" width="3" height="22" fill="#c0c0c0"/>
<rect x="270" y="437" width="3" height="25" fill="#c0c0c0"/>
<rect x="274" y="437" width="3" height="26" fill="#c0c0c0"/>
<rect x="278" y="437" width="3" height="25" fill="#c0c0c0"/>
<rect x="282" y="437" width="3" height="24" fill="#c0c0c0"/>
<rect x="286" y="437" width="3" height="24" fill="#c0c0c0"/>
<rect x="290" y="437" width="3" height="24" fill="#c0c0c0"/>
<rect x="294" y="437" width="3" height="25" fill="#c0c0c0"/>
<rect x="298" y="437" width="3" height="23" fill="#c0c0c0"/>
<rect x="302" y="437" width="3" height="22" fill="#c0c0c0"/>
<rect x="306" y="437" width="3" height="22" fill="#c0c0c0"/>
<rect x="310" y="437" width="3" height="21" fill="#c0c0c0"/>
<rect x="314" y="437" width="3" height="23" fill="#c0c0c0"/>
<rect x="318" y="437" width="3" height="27" fill="#c0c0c0"/>
<rect x="322" y="437" width="3" height="30" fill="#c0c0c0"/>
<rect x="326" y="437" width="3" height="33" fill="#c0c0c0"/>
<rect x="330" y="437" width="3" height="34" fill="#c0c0c0"/>
<rect x="334" y="437" width="3" height="34" fill="#c0c0c0"/>
<rect x="338" y="437" width="3" height="33" fill="#c0c0c0"/>
<rect x="342" y="437" width="3" height="31" fill="#c0c0c0"/>
<rect x="346" y="437" width="3" height="29" fill="#c0c0c0"/>
<rect x="350" y="437" width="3" height="28" fill="#c0c0c0"/>
<rect x="354" y="437" width="3" height="25" fill="#c0c0c0"/>
<rect x="358" y="437" width="3" height="24" fill="#c0c0c0"/>
<rect x="362" y="437" width="3" height="23" fill="#c0c0c0"/>
<rect x="366" y="437" width="3" height="21" fill="#c0c0c0"/>
<rect x="370" y="437" width="3" height="19" fill="#c0c0c0"/>
<rect x="374" y="437" width="3" height="16" fill="#c0c0c0"/>
<rect x="378" y="437" width="3" height="11" fill="#c0c0c0"/>
<rect x="382" y="437" width="3" height="6" fill="#c0c0c0"/>
<rect x="386" y="437" width="3" height="2" fill="#c0c0c0"/>
<rect x="390" y="433" width="3" height="4" fill="#c0c0c0"/>
<rect x="394" y="429" width="3" height="8" fill="#c0c0c0"/>
<rect x="398" y="425" width="3" height="12" fill="#c0c0c0"/>
<rect x="402" y="423" width="3" height="14" fill="#c0c0c0"/>
<rect x="406" y="423" width="3" height="14" fill="#c0c0c0"/>
<rect x="410" y="422" width="3" height="15" fill="#c0c0c0"/>
<rect x="414" y="422" width="3" height="15" fill="#c0c0c0"/>
<rect x="418" y="422" width="3" height="15" fill="#c0c0c0"/>
<rect x="422" y="421" width="3" height="16" fill="#c0c0c0"/>
<rect x="426" y="421" width="3" height="16" fill="#c0c0c0"/>
<rect x="430" y="422" width="3" height="15" fill="#c0c0c0"/>
<rect x="434" y="421" width="3" height="16" fill="#c0c0c0"/>
<rect x="438" y="421" width="3" height="16" fill="#c0c0c0"/>
<rect x="442" y="420" width="3" height="17" fill="#c0c0c0"/>
<rect x="446" y="420" width="3" height="17" fill="#c0c0c0"/>
<rect x="450" y="421" width="3" height="16" fill="#c0c0c0"/>
<rect x="454" y="422" width="3" height="15" fill="#c0c0c0"/>
<rect x="458" y="423" width="3" height="14" fill="#c0c0c0"/>
<rect x="462" y="425" width="3" height="12" fill="#c0c0c0"/>
<rect x="466" y="425" width="3" height="12" fill="#c0c0c0"/>
<rect x="470" y="424" width="3" height="13" fill="#c0c0c0"/>
<rect x="474" y="424" width="3" height="13" fill="#c0c0c0"/>
<rect x="478" y="426" width="3" height="11" fill="#c0c0c0"/>
<rect x="482" y="427" width="3" height="10" fill="#c0c0c0"/>
<rect x="486" y="427" width="3" height="10" fill="#c0c0c0"/>
<rect x="490" y="428" width="3" height="9" fill="#c0c0c0"/>
<rect x="494" y="424" width="3" height="13" fill="#c0c0c0"/>
<rect x="498" y="424" width="3" height="13" fill="#c0c0c0"/>
<rect x="502" y="427" width="3" height="10" fill="#c0c0c0"/>
<rect x="506" y="429" width="3" height="8" fill="#c0c0c0"/>
<rect x="510" y="431" width="3" height="6" fill="#c0c0c0"/>
<rect x="514" y="433" width="3" height="4" fill="#c0c0c0"/>
<rect x="518" y="434" width="3" height="3" fill="#c0c0c0"/>
<rect x="522" y="435" width="3" height="2" fill="#c0c0c0"/>
<rect x="526" y="435" width="3" height="2" fill="#c0c0c0"/>
<rect x="530" y="434" width="3" height="3" fill="#c0c0c0"/>
<rect x="534" y="433" width="3" height="4" fill="#c0c0c0"/>
<rect x="538" y="434" width="3" height="3" fill="#c0c0c0"/>
<rect x="542" y="434" width="3" height="3" fill="#c0c0c0"/>
<rect x="546" y="434" width="3" height="3" fill="#c0c0c0"/>
<rect x="550" y="434" width="3" height="3" fill="#c0c0c0"/>
<rect x="554" y="432" width="3" height="5" fill="#c0c0c0"/>
<rect x="558" y="432" width="3" height="5" fill="#c0c0c0"/>
<rect x="562" y="430" width="3" height="7" fill="#c0c0c0"/>
<rect x="566" y="429" width="3" height="8" fill="#c0c0c0"/>
<rect x="570" y="431" width="3" height="6" fill="#c0c0c0"/>
<rect x="574" y="433" width="3" height="4" fill="#c0c0c0"/>
<rect x="578" y="434" width="3" height="3" fill="#c0c0c0"/>
<rect x="582" y="434" width="3" height="3" fill="#c0c0c0"/>
<rect x="586" y="436" width="3" height="1" fill="#c0c0c0"/>
<rect x="590" y="437" width="3" height="1" fill="#c0c0c0"/>
<rect x="594" y="437" width="3" height="3" fill="#c0c0c0"/>
<rect x="598" y="437" width="3" height="5" fill="#c0c0c0"/>
<rect x="602" y="437" width="3" height="6" fill="#c0c0c0"/>
<rect x="606" y="437" width="3" height="8" fill="#c0c0c0"/>
<rect x="610" y="437" width="3" height="9" fill="#c0c0c0"/>
<rect x="614" y="437" width="3" height="8" fill="#c0c0c0"/>
<rect x="618" y="437" width="3" height="8" fill="#c0c0c0"/>
<rect x="622" y="437" width="3" height="8" fill="#c0c0c0"/>
<rect x="626" y="437" width="3" height="9" fill="#c0c0c0"/>
<rect x="630" y="437" width="3" height="10" fill="#c0c0c0"/>
<rect x="634" y="437" width="3" height="10" fill="#c0c0c0"/>
<rect x="638" y="437" width="3" height="12" fill="#c0c0c0"/>
<rect x="642" y="437" width="3" height="11" fill="#c0c0c0"/>
<rect x="646" y="437" width="3" height="8" fill="#c0c0c0"/>
<rect x="650" y="437" width="3" height="5" fill="#c0c0c0"/>
<rect x="654" y="437" width="3" height="2" fill="#c0c0c0"/>
<rect x="658" y="437" width="3" height="1" fill="#c0c0c0"/>
<rect x="662" y="437" width="3" height="1" fill="#c0c0c0"/>
<rect x="666" y="436" width="3" height="1" fill="#c0c0c0"/>
<rect x="670" y="437" width="3" height="1" fill="#c0c0c0"/>
<rect x="674" y="436" width="3" height="1" fill="#c0c0c0"/>
<rect x="678" y="435" width="3" height="2" fill="#c0c0c0"/>
<rect x="682" y="437" width="3" height="1" fill="#c0c0c0"/>
<rect x="686" y="437" width="3" height="3" fill="#c0c0c0"/>
<rect x="690" y="437" width="3" height="4" fill="#c0c0c0"/>
<rect x="694" y="437" width="3" height="4" fill="#c0c0c0"/>
<rect x="698" y="437" width="3" height="4" fill="#c0c0c0"/>
<rect x="702" y="437" width="3" height="4" fill="#c0c0c0"/>
<rect x="706" y="437" width="3" height="5" fill="#c0c0c0"/>
<rect x="710" y="437" width="3" height="3" fill="#c0c0c0"/>
<rect x="714" y="437" width="3" height="3" fill="#c0c0c0"/>
<rect x="718" y="437" width="3" height="6" fill="#c0c0c0"/>
<rect x="722" y="437" width="3" height="7" fill="#c0c0c0"/>
<rect x="726" y="437" width="3" height="8" fill="#c0c0c0"/>
<rect x="730" y="437" width="3" height="9" fill="#c0c0c0"/>
<rect x="734" y="437" width="3" height="15" fill="#c0c0c0"/>
<rect x="738" y="437" width="3" height="17" fill="#c0c0c0"/>
<rect x="742" y="437" width="3" height="19" fill="#c0c0c0"/>
<rect x="746" y="437" width="3" height="21" fill="#c0c0c0"/>
<rect x="750" y="437" width="3" height="23" fill="#c0c0c0"/>
<rect x="754" y="437" width="3" height="24" fill="#c0c0c0"/>
<rect x="758" y="437" width="3" height="23" fill="#c0c0c0"/>
<rect x="762" y="437" width="3" height="23" fill="#c0c0c0"/>
<rect x="766" y="437" width="3" height="20" fill="#c0c0c0"/>
<rect x="770" y="437" width="3" height="20" fill="#c0c0c0"/>
<rect x="774" y="437" width="3" height="19" fill="#c0c0c0"/>
<rect x="778" y="437" width="3" height="18" fill="#c0c0c0"/>
<rect x="782" y="437" width="3" height="17" fill="#c0c0c0"/>
<rect x="786" y="437" width="3" height="16" fill="#c0c0c0"/>
<rect x="790" y="437" width="3" height="16" fill="#c0c0c0"/>
<rect x="794" y="437" width="3" height="16" fill="#c0c0c0"/>
<rect x="798" y="437" width="3" height="14" fill="#c0c0c0"/>
<rect x="802" y="437" width="3" height="14" fill="#c0c0c0"/>
<rect x="806" y="437" width="3" height="15" fill="#c0c0c0"/>
<rect x="810" y="437" width="3" height="14" fill="#c0c0c0"/>
<rect x="814" y="437" width="3" height="13" fill="#c0c0c0"/>
<rect x="818" y="437" width="3" height="14" fill="#c0c0c0"/>
<rect x="822" y="437" width="3" height="13" fill="#c0c0c0"/>
<rect x="826" y="437" width="3" height="12" fill="#c0c0c0"/>
<rect x="830" y="437" width="3" height="12" fill="#c0c0c0"/>
<rect x="834" y="437" width="3" height="10" fill="#c0c0c0"/>
<rect x="838" y="437" width="3" height="9" fill="#c0c0c0"/>
<rect x="842" y="437" width="3" height="9" fill="#c0c0c0"/>
<rect x="846" y="437" width="3" height="7" fill="#c0c0c0"/>
<rect x="850" y="437" width="3" height="7" fill="#c0c0c0"/>
<rect x="854" y="437" width="3" height="9" fill="#c0c0c0"/>
<rect x="858" y="437" width="3" height="10" fill="#c0c0c0"/>
<rect x="862" y="437" width="3" height="10" fill="#c0c0c0"/>
<rect x="866" y="437" width="3" height="10" fill="#c0c0c0"/>
<rect x="870" y="437" width="3" height="10" fill="#c0c0c0"/>
<rect x="874" y="437" width="3" height="11" fill="#c0c0c0"/>
<rect x="878" y="437" width="3" height="13" fill="#c0c0c0"/>
<rect x="882" y="437" width="3" height="12" fill="#c0c0c0"/>
<rect x="886" y="437" width="3" height="11" fill="#c0c0c0"/>
<rect x="890" y="437" width="3" height="10" fill="#c0c0c0"/>
<rect x="894" y="437" width="3" height="9" fill="#c0c0c0"/>
<rect x="898" y="437" width="3" height="8" fill="#c0c0c0"/>
<rect x="902" y="437" width="3" height="8" fill="#c0c0c0"/>
<rect x="906" y="437" width="3" height="6" fill="#c0c0c0"/>
<rect x="910" y="437" width="3" height="5" fill="#c0c0c0"/>
<rect x="914" y="437" width="3" height="5" fill="#c0c0c0"/>
<rect x="918" y="437" width="3" height="4" fill="#c0c0c0"/>
<rect x="922" y="437" width="3" height="4" fill="#c0c0c0"/>
</g>
<polyline points="3.0,449.5 17.0,449.5 21.0,450.3 27.0,451.7 33.0,453.0 39.0,454.3 43.0,455.7 47.0,456.4 51.0,456.4 55.0,455.7 59.0,454.3 63.0,453.3 67.0,451.0 71.0,448.3 75.0,445.6 79.0,442.9 83.0,440.9 87.0,439.2 91.0,437.6 95.0,434.9 99.0,431.9 102.0,429.5 107.0,428.2 111.0,426.2 115.0,424.8 119.0,424.1 122.0,423.2 133.0,423.2 135.0,424.1 148.0,424.1 152.0,422.8 156.0,421.5 163.0,419.4 169.0,416.8 175.0,414.1 179.0,413.4 193.0,413.4 197.0,414.1 202.0,415.4 207.0,417.4 212.0,419.8 217.0,422.8 222.0,426.2 227.0,429.5 232.0,433.5 237.0,437.6 242.0,441.6 247.0,445.0 252.0,447.6 256.0,449.3 261.0,450.3 266.0,451.7 270.0,453.7 275.0,455.7 280.0,457.0 286.0,458.4 292.0,459.0 297.0,460.4 300.0,460.6 321.0,460.6 325.0,461.7 330.0,463.1 335.0,464.4 340.0,465.8 345.0,467.1 348.0,467.8 356.0,467.8 360.0,466.4 366.0,465.1 370.0,463.7 375.0,461.1 380.0,458.4 384.0,455.7 388.0,453.0 392.0,449.0 396.0,445.6 400.0,441.6 404.0,437.6 408.0,434.9 413.0,430.2 417.0,427.5 421.0,425.5 425.0,423.5 430.0,422.8 440.0,422.1 443.0,421.5 461.0,421.5 463.0,422.5 473.0,422.5 475.0,423.5 481.0,423.5 485.0,425.2 489.0,425.5 494.0,426.2 497.0,425.5 501.0,425.5 504.0,426.5 509.0,426.5 513.0,427.8 517.0,428.8 522.0,430.2 529.0,430.5 533.0,431.9 538.0,433.5 548.0,433.5 551.0,434.2 554.0,433.2 564.0,433.2 566.0,432.5 589.0,432.5 592.0,433.5 596.0,434.6 601.0,435.6 605.0,436.9 608.0,438.2 612.0,439.6 617.0,440.9 621.0,442.3 626.0,443.6 630.0,444.6 636.0,444.6 639.0,445.6 652.0,445.6 657.0,443.6 663.0,441.6 670.0,439.6 676.0,437.6 681.0,436.6 684.0,437.2 698.0,437.2 700.0,438.2 706.0,438.2 709.0,439.2 714.0,439.6 717.0,440.6 722.0,440.6 724.0,441.6 730.0,441.6 733.0,442.6 737.0,443.6 741.0,445.0 746.0,447.6 751.0,450.3 755.0,452.3 761.0,455.0 767.0,457.4 784.0,457.4 788.0,456.0 794.0,454.3 799.0,453.3 804.0,452.7 809.0,451.7 820.0,451.3 825.0,450.3 830.0,449.3 837.0,448.3 842.0,447.6 848.0,446.3 853.0,445.9 857.0,445.3 877.0,445.3 879.0,446.3 885.0,446.3 887.0,447.4 896.0,447.4 898.0,446.3 908.0,446.3 910.0,445.3 913.0,444.6 916.0,444.3 918.0,443.6 923.0,443.3" fill="none" stroke="#ff0000" stroke-width="1" stroke-linejoin="round" shape-rendering="crispEdges"/>
<text x="7.8" y="417.7" font-size="9.6" fill="#000" textLength="152.5" lengthAdjust="spacingAndGlyphs" stroke="#000" stroke-width="0.15">MACD(12,26,9) -0.003210 -0.005180</text>
<g shape-rendering="crispEdges">
<rect x="1166" y="407" width="2" height="1" fill="#000"/>
<rect x="1166" y="437" width="2" height="1" fill="#000"/>
<rect x="1166" y="473" width="2" height="1" fill="#000"/>
</g>
<text x="1169" y="416" font-size="9.6" fill="#000" textLength="32.5" lengthAdjust="spacingAndGlyphs" stroke="#000" stroke-width="0.15">0.02607</text>
<text x="1169" y="441" font-size="9.6" fill="#000" textLength="18" lengthAdjust="spacingAndGlyphs" stroke="#000" stroke-width="0.15">0.00</text>
<text x="1169" y="471" font-size="9.6" fill="#000" textLength="41" lengthAdjust="spacingAndGlyphs" stroke="#000" stroke-width="0.15">-0.031872</text>
</g>
<g id="rsi">
<g shape-rendering="crispEdges">
<line x1="4" y1="498.5" x2="1165" y2="498.5" stroke="#c0c0c0" stroke-width="1" stroke-dasharray="3,3"/>
<line x1="4" y1="526.5" x2="1165" y2="526.5" stroke="#c0c0c0" stroke-width="1" stroke-dasharray="3,3"/>
<rect x="1166" y="478" width="2" height="1" fill="#000"/>
<rect x="1166" y="547" width="2" height="1" fill="#000"/>
</g>
<polyline points="3.0,517.6 8.0,514.0 14.0,517.2 19.5,522.3 23.5,520.3 27.0,521.2 32.0,521.2 35.5,523.7 39.6,517.6 43.6,516.3 49.0,511.6 57.7,511.3 63.0,514.0 67.5,505.9 71.0,507.8 75.4,512.7 79.2,510.2 83.2,509.6 87.2,508.2 95.6,500.2 99.3,506.2 103.4,509.2 107.7,512.7 111.4,510.2 119.5,510.2 123.5,512.7 127.5,509.6 135.6,509.6 139.6,506.2 147.0,503.3 151.0,504.6 155.5,498.8 160.0,500.8 163.8,503.5 166.4,502.2 169.5,503.3 175.5,509.2 178.5,507.6 182.2,506.2 187.6,506.2 191.6,509.2 195.6,510.2 203.7,514.3 207.4,513.2 211.0,518.0 215.0,519.2 219.8,521.2 223.2,520.3 225.8,520.6 229.2,522.3 231.5,524.3 236.0,521.2 239.3,523.0 243.6,525.3 248.0,521.2 251.3,522.3 256.0,518.0 259.4,517.2 264.0,523.0 267.4,529.3 271.5,528.4 275.5,525.3 279.5,518.3 283.0,519.0 287.6,521.2 291.0,520.3 295.6,523.3 299.7,519.4 303.2,520.5 307.0,519.4 311.8,523.4 315.8,523.4 319.9,527.3 323.9,528.4 327.8,530.4 331.5,528.4 335.6,524.6 339.6,523.3 343.6,519.4 347.7,520.3 351.0,521.4 355.7,517.2 359.7,519.4 363.0,520.6 367.0,517.6 371.0,514.5 375.8,514.3 379.2,507.6 381.9,505.3 385.9,503.5 391.3,502.2 395.3,500.4 400.0,500.4 404.0,504.2 407.8,506.5 412.0,506.5 414.0,505.5 417.4,504.9 421.5,503.3 425.5,503.3 428.9,505.1 431.5,507.3 435.6,502.9 439.6,505.5 443.6,501.5 447.7,504.6 451.7,506.5 455.4,505.3 459.4,511.3 463.4,511.3 467.4,508.2 471.5,503.3 476.2,508.2 479.5,512.5 482.9,510.2 487.6,510.2 491.6,508.2 495.6,500.4 499.7,509.6 503.7,515.6 506.4,514.3 519.8,514.3 523.2,515.6 526.5,510.9 529.9,509.3 535.9,509.3 539.9,511.3 544.6,511.3 547.3,512.5 551.3,512.5 555.4,507.2 559.4,509.6 563.4,506.5 567.4,506.2 571.5,512.5 575.5,515.3 579.5,515.3 583.6,511.3 587.6,517.6 591.0,515.3 595.6,518.3 599.0,519.4 603.6,519.6 607.5,522.5 615.8,514.0 620.0,515.3 627.5,519.4 633.6,519.4 639.6,523.3 643.6,513.6 647.7,508.6 654.4,506.2 659.0,510.2 663.8,512.5 668.5,512.5 671.0,513.6 679.2,508.2 683.2,516.3 687.5,520.6 691.3,515.3 695.3,515.3 699.3,513.2 703.4,515.3 707.4,516.7 712.0,512.3 715.4,513.2 719.5,519.4 723.5,517.2 728.2,517.2 730.9,518.6 735.6,527.7 739.6,523.4 743.4,522.0 747.7,524.3 753.2,524.3 755.4,525.7 759.5,520.3 763.4,521.2 767.4,516.3 771.5,518.3 774.2,517.2 777.5,517.2 779.5,518.3 782.9,517.2 788.3,517.2 791.6,519.4 795.6,519.4 799.7,515.3 803.7,517.2 807.7,519.4 811.7,519.4 815.1,517.2 819.8,520.6 823.2,519.4 827.9,515.3 831.2,516.3 835.9,514.7 839.3,513.2 843.3,515.3 847.3,512.3 852.0,517.0 855.8,521.4 860.0,520.3 865.4,518.3 871.5,518.3 875.5,521.2 879.5,526.3 883.6,514.3 889.6,514.3 895.0,516.3 899.0,514.3 903.0,513.2 907.0,511.3 909.7,511.3 915.0,514.3 921.0,514.3 922.8,515.6" fill="none" stroke="#1e90ff" stroke-width="1" stroke-linejoin="round" shape-rendering="crispEdges"/>
<text x="7.5" y="489" font-size="9.6" fill="#000" textLength="67" lengthAdjust="spacingAndGlyphs" stroke="#000" stroke-width="0.15">RSI(14) 46.3742</text>
<text x="1169.5" y="487" font-size="9.6" fill="#000" textLength="14" lengthAdjust="spacingAndGlyphs" stroke="#000" stroke-width="0.15">100</text>
<text x="1169.5" y="502" font-size="9.6" fill="#000" textLength="9.5" lengthAdjust="spacingAndGlyphs" stroke="#000" stroke-width="0.15">70</text>
<text x="1169.5" y="530" font-size="9.6" fill="#000" textLength="9.5" lengthAdjust="spacingAndGlyphs" stroke="#000" stroke-width="0.15">30</text>
<text x="1170" y="545" font-size="9" fill="#000" stroke="#000" stroke-width="0.15">0</text>
</g>
<g id="dates">
<rect x="3" y="549" width="1" height="2" fill="#000" shape-rendering="crispEdges"/>
<text x="2.5" y="561" font-size="9.6" fill="#000" textLength="46.6" lengthAdjust="spacingAndGlyphs" stroke="#000" stroke-width="0.15">3 Feb 2021</text>
<rect x="67" y="549" width="1" height="2" fill="#000" shape-rendering="crispEdges"/>
<text x="66.5" y="561" font-size="9.6" fill="#000" textLength="51.7" lengthAdjust="spacingAndGlyphs" stroke="#000" stroke-width="0.15">25 Feb 2021</text>
<rect x="131" y="549" width="1" height="2" fill="#000" shape-rendering="crispEdges"/>
<text x="130.5" y="561" font-size="9.6" fill="#000" textLength="51.7" lengthAdjust="spacingAndGlyphs" stroke="#000" stroke-width="0.15">19 Mar 2021</text>
<rect x="195" y="549" width="1" height="2" fill="#000" shape-rendering="crispEdges"/>
<text x="194.5" y="561" font-size="9.6" fill="#000" textLength="50.2" lengthAdjust="spacingAndGlyphs" stroke="#000" stroke-width="0.15">13 Apr 2021</text>
<rect x="259" y="549" width="1" height="2" fill="#000" shape-rendering="crispEdges"/>
<text x="258.5" y="561" font-size="9.6" fill="#000" textLength="48.2" lengthAdjust="spacingAndGlyphs" stroke="#000" stroke-width="0.15">5 May 2021</text>
<rect x="323" y="549" width="1" height="2" fill="#000" shape-rendering="crispEdges"/>
<text x="322.5" y="561" font-size="9.6" fill="#000" textLength="53.3" lengthAdjust="spacingAndGlyphs" stroke="#000" stroke-width="0.15">27 May 2021</text>
<rect x="387" y="549" width="1" height="2" fill="#000" shape-rendering="crispEdges"/>
<text x="386.5" y="561" font-size="9.6" fill="#000" textLength="50.7" lengthAdjust="spacingAndGlyphs" stroke="#000" stroke-width="0.15">18 Jun 2021</text>
<rect x="451" y="549" width="1" height="2" fill="#000" shape-rendering="crispEdges"/>
<text x="450.5" y="561" font-size="9.6" fill="#000" textLength="47.6" lengthAdjust="spacingAndGlyphs" stroke="#000" stroke-width="0.15">12 Jul 2021</text>
<rect x="515" y="549" width="1" height="2" fill="#000" shape-rendering="crispEdges"/>
<text x="514.5" y="561" font-size="9.6" fill="#000" textLength="47.1" lengthAdjust="spacingAndGlyphs" stroke="#000" stroke-width="0.15">3 Aug 2021</text>
<rect x="579" y="549" width="1" height="2" fill="#000" shape-rendering="crispEdges"/>
<text x="578.5" y="561" font-size="9.6" fill="#000" textLength="52.3" lengthAdjust="spacingAndGlyphs" stroke="#000" stroke-width="0.15">25 Aug 2021</text>
<rect x="643" y="549" width="1" height="2" fill="#000" shape-rendering="crispEdges"/>
<text x="642.5" y="561" font-size="9.6" fill="#000" textLength="52.3" lengthAdjust="spacingAndGlyphs" stroke="#000" stroke-width="0.15">16 Sep 2021</text>
<rect x="707" y="549" width="1" height="2" fill="#000" shape-rendering="crispEdges"/>
<text x="706.5" y="561" font-size="9.6" fill="#000" textLength="45.1" lengthAdjust="spacingAndGlyphs" stroke="#000" stroke-width="0.15">8 Oct 2021</text>
<rect x="771" y="549" width="1" height="2" fill="#000" shape-rendering="crispEdges"/>
<text x="770.5" y="561" font-size="9.6" fill="#000" textLength="47.1" lengthAdjust="spacingAndGlyphs" stroke="#000" stroke-width="0.15">1 Nov 2021</text>
<rect x="835" y="549" width="1" height="2" fill="#000" shape-rendering="crispEdges"/>
<text x="834.5" y="561" font-size="9.6" fill="#000" textLength="52.3" lengthAdjust="spacingAndGlyphs" stroke="#000" stroke-width="0.15">23 Nov 2021</text>
<rect x="899" y="549" width="1" height="2" fill="#000" shape-rendering="crispEdges"/>
<text x="898.5" y="561" font-size="9.6" fill="#000" textLength="52.3" lengthAdjust="spacingAndGlyphs" stroke="#000" stroke-width="0.15">15 Dec 2021</text>
</g>
<g id="tabs">
<rect x="0" y="569" width="1207" height="1" fill="#e8e8e8"/>
<rect x="0" y="570" width="1207" height="1" fill="#fff"/>
<rect x="0" y="572" width="1207" height="19" fill="#f0f0f0"/>
<rect x="0" y="571" width="1207" height="1" fill="#000"/>
<rect x="0" y="591" width="1207" height="1" fill="#fbfbfb"/>
<rect x="0" y="592" width="1207" height="2" fill="#f0f0f0"/>
<rect x="0" y="594" width="1207" height="1" fill="#d8d8d8"/>
<rect x="0" y="595" width="1207" height="1" fill="#9a9a9a"/>
<rect x="525" y="571" width="110" height="18" fill="#fff"/>
<rect x="524" y="571" width="1" height="19" fill="#000"/>
<rect x="635" y="571" width="1" height="19" fill="#000"/>
<rect x="524" y="589" width="112" height="1" fill="#000"/>
<text x="15.6" y="585" font-size="12" fill="#787878" textLength="77.9" lengthAdjust="spacingAndGlyphs">USDX,Weekly</text>
<text x="115" y="585" font-size="12" fill="#787878" textLength="85.2" lengthAdjust="spacingAndGlyphs">EURUSD-,Daily</text>
<text x="222" y="585" font-size="12" fill="#787878" textLength="86.9" lengthAdjust="spacingAndGlyphs">AUDUSD-,Daily</text>
<text x="332.2" y="585" font-size="12" fill="#787878" textLength="71.5" lengthAdjust="spacingAndGlyphs">USDCHF-,H4</text>
<text x="427.6" y="585" font-size="12" fill="#787878" textLength="85.2" lengthAdjust="spacingAndGlyphs">USDCAD-,Daily</text>
<text x="536" y="585" font-size="12" fill="#000" textLength="87.3" lengthAdjust="spacingAndGlyphs">USDCNH-,Daily</text>
<text x="647.2" y="585" font-size="12" fill="#787878" textLength="73.2" lengthAdjust="spacingAndGlyphs">XAUUSD-,H1</text>
<text x="743.3" y="585" font-size="12" fill="#787878" textLength="68.9" lengthAdjust="spacingAndGlyphs">UKOil-,Daily</text>
<text x="836.1" y="585" font-size="12" fill="#787878" textLength="63.9" lengthAdjust="spacingAndGlyphs">DJ30-,Daily</text>
<text x="923.2" y="585" font-size="12" fill="#787878" textLength="61.3" lengthAdjust="spacingAndGlyphs">UK100-,H1</text>
<rect x="104" y="575" width="1" height="13" fill="#707070"/>
<rect x="212" y="575" width="1" height="13" fill="#707070"/>
<rect x="320" y="575" width="1" height="13" fill="#707070"/>
<rect x="416.5" y="575" width="1" height="13" fill="#707070"/>
<rect x="732.5" y="575" width="1" height="13" fill="#707070"/>
<rect x="824.5" y="575" width="1" height="13" fill="#707070"/>
<rect x="912" y="575" width="1" height="13" fill="#707070"/>
<rect x="996.5" y="575" width="1" height="13" fill="#707070"/>
<path d="M1184,577 L1184,583 L1180.7,580 Z" fill="#929292"/>
<path d="M1200,577 L1200,583 L1203.5,580 Z" fill="#929292"/>
</g>
</svg></body></html>
